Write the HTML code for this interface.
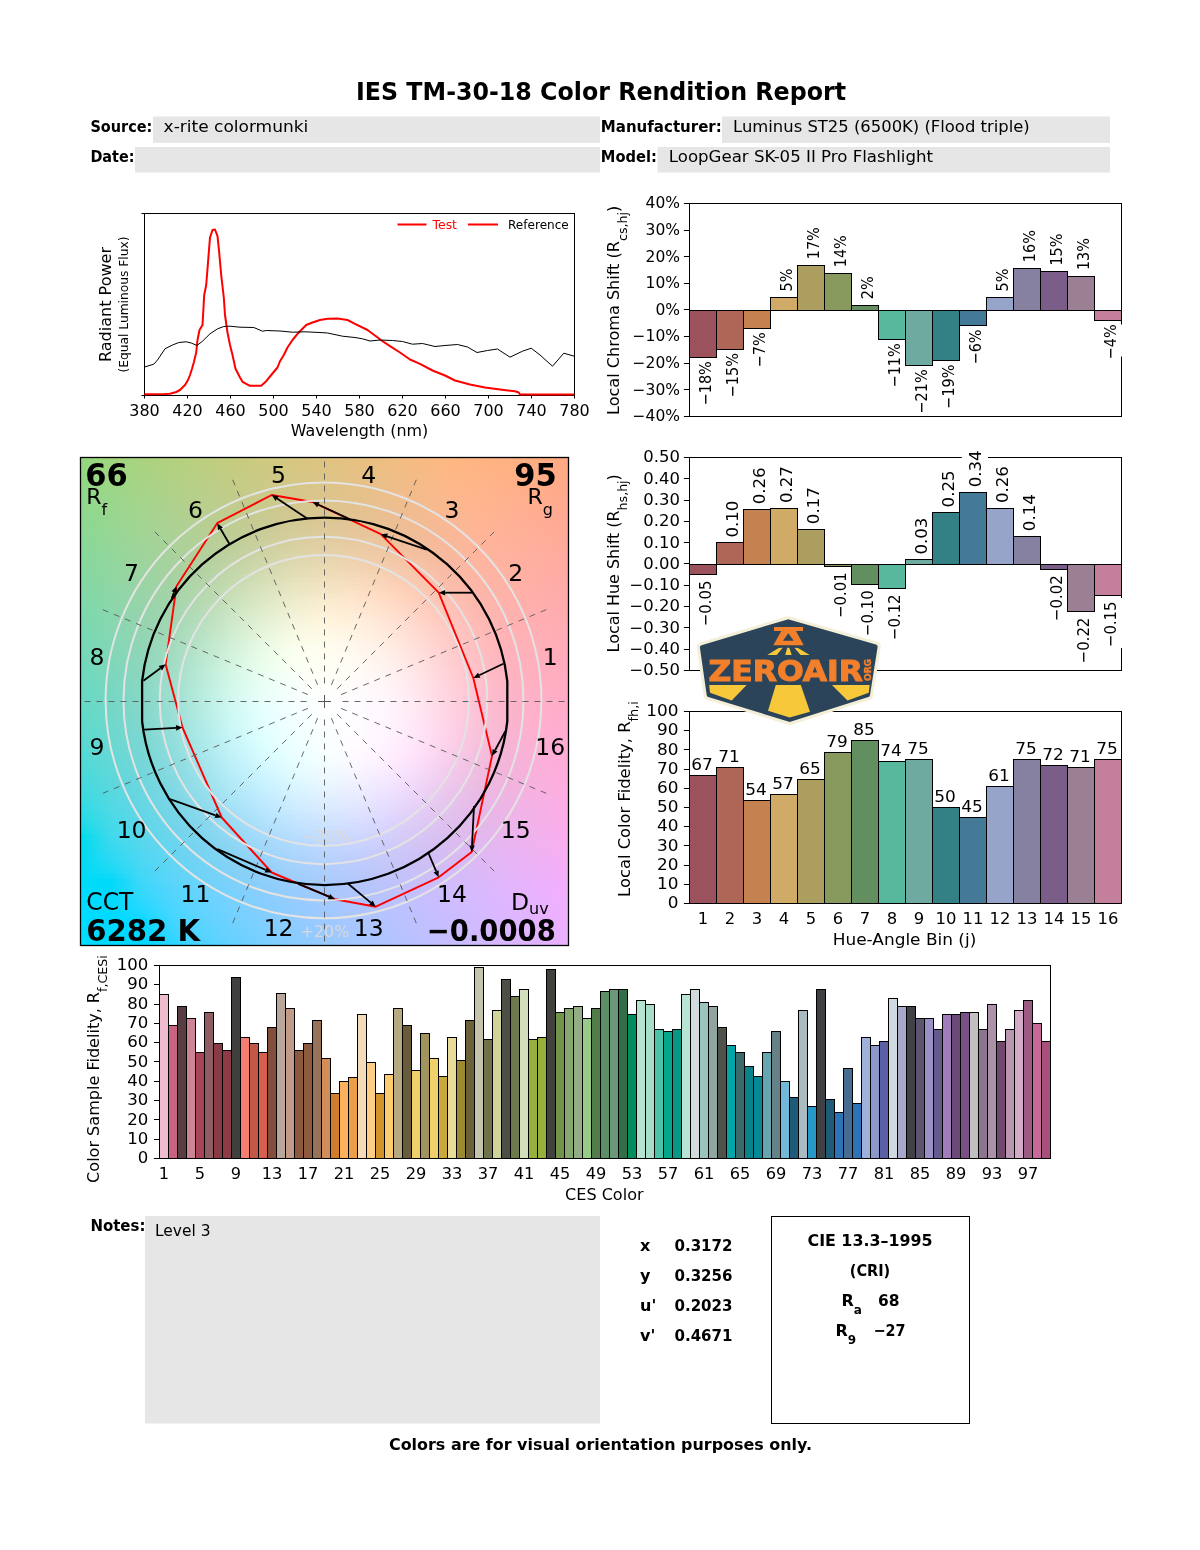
<!DOCTYPE html>
<html><head><meta charset="utf-8"><title>IES TM-30-18 Color Rendition Report</title>
<style>html,body{margin:0;padding:0;background:#fff}svg{display:block}text{font-family:"DejaVu Sans","Liberation Sans",sans-serif}</style>
</head><body>
<svg width="1200" height="1550" viewBox="0 0 1200 1550">
<rect width="1200" height="1550" fill="#fff"/>
<rect x="153" y="116.5" width="447" height="26.4" fill="#e6e6e6"/>
<rect x="135" y="147" width="465" height="25.5" fill="#e6e6e6"/>
<rect x="722" y="116.5" width="388" height="26.4" fill="#e6e6e6"/>
<rect x="657.5" y="147" width="452.5" height="25.5" fill="#e6e6e6"/>
<text x="356" y="100.3" font-size="24" font-weight="bold" textLength="490" lengthAdjust="spacingAndGlyphs">IES TM-30-18 Color Rendition Report</text>
<text x="90.4" y="132" font-size="16" font-weight="bold" textLength="62" lengthAdjust="spacingAndGlyphs">Source:</text>
<text x="163.6" y="132" font-size="16" textLength="144.7" lengthAdjust="spacingAndGlyphs">x-rite colormunki</text>
<text x="90.4" y="161.5" font-size="16" font-weight="bold" textLength="44" lengthAdjust="spacingAndGlyphs">Date:</text>
<text x="600.8" y="131.5" font-size="16" font-weight="bold" textLength="121" lengthAdjust="spacingAndGlyphs">Manufacturer:</text>
<text x="733.1" y="131.5" font-size="16" textLength="296.6" lengthAdjust="spacingAndGlyphs">Luminus ST25 (6500K) (Flood triple)</text>
<text x="600.8" y="161.5" font-size="16" font-weight="bold" textLength="56" lengthAdjust="spacingAndGlyphs">Model:</text>
<text x="668.8" y="161.5" font-size="16" textLength="264.2" lengthAdjust="spacingAndGlyphs">LoopGear SK-05 II Pro Flashlight</text>
<rect x="144.5" y="213.5" width="430.0" height="182.0" fill="#fff" stroke="#000" stroke-width="1"/>
<path d="M144.5 395.5v3" stroke="#000" stroke-width="1"/>
<text x="144.5" y="416.3" font-size="16" text-anchor="middle" textLength="30.5" lengthAdjust="spacingAndGlyphs">380</text>
<path d="M187.5 395.5v3" stroke="#000" stroke-width="1"/>
<text x="187.5" y="416.3" font-size="16" text-anchor="middle" textLength="30.5" lengthAdjust="spacingAndGlyphs">420</text>
<path d="M230.5 395.5v3" stroke="#000" stroke-width="1"/>
<text x="230.5" y="416.3" font-size="16" text-anchor="middle" textLength="30.5" lengthAdjust="spacingAndGlyphs">460</text>
<path d="M273.5 395.5v3" stroke="#000" stroke-width="1"/>
<text x="273.5" y="416.3" font-size="16" text-anchor="middle" textLength="30.5" lengthAdjust="spacingAndGlyphs">500</text>
<path d="M316.5 395.5v3" stroke="#000" stroke-width="1"/>
<text x="316.5" y="416.3" font-size="16" text-anchor="middle" textLength="30.5" lengthAdjust="spacingAndGlyphs">540</text>
<path d="M359.5 395.5v3" stroke="#000" stroke-width="1"/>
<text x="359.5" y="416.3" font-size="16" text-anchor="middle" textLength="30.5" lengthAdjust="spacingAndGlyphs">580</text>
<path d="M402.5 395.5v3" stroke="#000" stroke-width="1"/>
<text x="402.5" y="416.3" font-size="16" text-anchor="middle" textLength="30.5" lengthAdjust="spacingAndGlyphs">620</text>
<path d="M445.5 395.5v3" stroke="#000" stroke-width="1"/>
<text x="445.5" y="416.3" font-size="16" text-anchor="middle" textLength="30.5" lengthAdjust="spacingAndGlyphs">660</text>
<path d="M488.5 395.5v3" stroke="#000" stroke-width="1"/>
<text x="488.5" y="416.3" font-size="16" text-anchor="middle" textLength="30.5" lengthAdjust="spacingAndGlyphs">700</text>
<path d="M531.5 395.5v3" stroke="#000" stroke-width="1"/>
<text x="531.5" y="416.3" font-size="16" text-anchor="middle" textLength="30.5" lengthAdjust="spacingAndGlyphs">740</text>
<path d="M574.5 395.5v3" stroke="#000" stroke-width="1"/>
<text x="574.5" y="416.3" font-size="16" text-anchor="middle" textLength="30.5" lengthAdjust="spacingAndGlyphs">780</text>
<path d="M141.5 213.5h3M141.5 395.5h3" stroke="#000" stroke-width="1"/>
<text x="359.5" y="436.3" font-size="16" text-anchor="middle" textLength="137.5" lengthAdjust="spacingAndGlyphs">Wavelength (nm)</text>
<text x="110.5" y="304.5" font-size="16" text-anchor="middle" textLength="115" lengthAdjust="spacingAndGlyphs" transform="rotate(-90 110.5 304.5)">Radiant Power</text>
<text x="128" y="304.5" font-size="12.5" text-anchor="middle" textLength="136" lengthAdjust="spacingAndGlyphs" transform="rotate(-90 128 304.5)">(Equal Luminous Flux)</text>
<polyline fill="none" stroke="#f00" stroke-width="2" stroke-linejoin="round" points="144.5,394.2 165.0,394.0 170.0,393.8 176.2,392.0 180.0,390.0 185.0,385.0 188.0,380.0 190.0,375.0 192.0,368.8 193.8,362.5 196.2,352.5 197.5,340.0 199.5,330.0 202.5,325.0 204.2,295.0 206.2,285.0 208.0,262.5 210.0,237.5 212.5,230.0 215.0,229.5 217.5,236.2 219.2,252.5 221.2,275.0 223.8,297.5 225.0,315.0 227.5,332.5 230.0,345.0 232.5,355.0 235.5,368.8 240.0,377.5 242.5,381.8 250.0,385.8 261.2,385.8 266.2,381.2 271.2,375.0 277.5,367.5 280.0,361.2 283.8,355.0 287.5,347.5 292.5,340.0 297.5,333.8 302.5,328.8 306.2,325.0 312.5,322.5 320.0,320.0 327.5,318.8 337.5,318.5 347.5,320.0 355.0,323.8 367.5,330.0 380.0,339.2 380.0,339.5 390.0,346.2 400.0,352.5 410.0,359.5 420.0,363.8 432.5,370.5 445.0,375.5 455.0,380.5 470.0,384.5 485.0,387.5 500.0,389.5 515.0,391.2 518.8,392.5 520.0,394.5 574.2,394.5"/>
<polyline fill="none" stroke="#000" stroke-width="1" points="144.5,367.0 153.8,364.2 157.5,360.0 165.0,348.8 172.5,345.0 178.8,342.5 186.2,341.8 191.2,343.0 197.0,345.5 202.5,341.2 210.0,333.8 217.5,328.8 223.8,326.5 230.0,326.2 240.0,327.2 253.8,327.5 262.5,331.2 266.2,330.5 280.0,331.0 292.5,332.2 305.0,331.8 320.0,332.5 327.5,333.0 342.5,336.2 355.0,337.5 362.5,338.8 370.0,341.0 380.0,340.0 380.0,340.0 392.5,340.5 402.5,341.5 412.5,344.2 422.5,343.5 435.0,346.5 445.0,345.5 457.5,344.5 467.5,347.0 477.0,352.5 487.5,350.5 497.5,349.0 510.0,357.2 522.5,351.2 531.2,348.2 540.0,355.0 552.5,366.2 563.8,353.2 574.2,356.2"/>
<path d="M397.5 224.5h29M468 224.5h30" stroke="#f00" stroke-width="2"/>
<text x="432.5" y="228.8" font-size="13" fill="#f00" textLength="24.5" lengthAdjust="spacingAndGlyphs">Test</text>
<text x="508" y="228.8" font-size="13" textLength="60.8" lengthAdjust="spacingAndGlyphs">Reference</text>
<rect x="689.5" y="203.5" width="432.0" height="213.0" fill="#fff" stroke="#000" stroke-width="1"/>
<rect x="689.5" y="310.50" width="27" height="47.00" fill="#9c525d" stroke="#000" stroke-width="1"/>
<rect x="716.5" y="310.50" width="27" height="39.00" fill="#ae6757" stroke="#000" stroke-width="1"/>
<rect x="743.5" y="310.50" width="27" height="18.00" fill="#c3824f" stroke="#000" stroke-width="1"/>
<rect x="770.5" y="297.50" width="27" height="13.00" fill="#cfab67" stroke="#000" stroke-width="1"/>
<rect x="797.5" y="265.50" width="27" height="45.00" fill="#ab9e5f" stroke="#000" stroke-width="1"/>
<rect x="824.5" y="273.50" width="27" height="37.00" fill="#87995d" stroke="#000" stroke-width="1"/>
<rect x="851.5" y="305.50" width="27" height="5.00" fill="#638e5f" stroke="#000" stroke-width="1"/>
<rect x="878.5" y="310.50" width="27" height="29.00" fill="#57b89d" stroke="#000" stroke-width="1"/>
<rect x="905.5" y="310.50" width="27" height="55.00" fill="#6faaa0" stroke="#000" stroke-width="1"/>
<rect x="932.5" y="310.50" width="27" height="50.00" fill="#338085" stroke="#000" stroke-width="1"/>
<rect x="959.5" y="310.50" width="27" height="15.00" fill="#447998" stroke="#000" stroke-width="1"/>
<rect x="986.5" y="297.50" width="27" height="13.00" fill="#97a4c9" stroke="#000" stroke-width="1"/>
<rect x="1013.5" y="268.50" width="27" height="42.00" fill="#8681a0" stroke="#000" stroke-width="1"/>
<rect x="1040.5" y="271.50" width="27" height="39.00" fill="#7b5d8a" stroke="#000" stroke-width="1"/>
<rect x="1067.5" y="276.50" width="27" height="34.00" fill="#9b8093" stroke="#000" stroke-width="1"/>
<rect x="1094.5" y="310.50" width="27" height="10.00" fill="#c47f9d" stroke="#000" stroke-width="1"/>
<text transform="translate(711.2 361.29) scale(1.16 1) rotate(-90)" font-size="14.4" text-anchor="end">−18%</text>
<text transform="translate(738.2 353.17) scale(1.16 1) rotate(-90)" font-size="14.4" text-anchor="end">−15%</text>
<text transform="translate(765.2 332.41) scale(1.16 1) rotate(-90)" font-size="14.4" text-anchor="end">−7%</text>
<text transform="translate(792.2 291.42) scale(1.16 1) rotate(-90)" font-size="14.4">5%</text>
<text transform="translate(819.2 259.2) scale(1.16 1) rotate(-90)" font-size="14.4">17%</text>
<text transform="translate(846.2 267.19) scale(1.16 1) rotate(-90)" font-size="14.4">14%</text>
<text transform="translate(873.2 299.14) scale(1.16 1) rotate(-90)" font-size="14.4">2%</text>
<text transform="translate(900.2 343.32) scale(1.16 1) rotate(-90)" font-size="14.4" text-anchor="end">−11%</text>
<text transform="translate(927.2 369.41) scale(1.16 1) rotate(-90)" font-size="14.4" text-anchor="end">−21%</text>
<text transform="translate(954.2 364.62) scale(1.16 1) rotate(-90)" font-size="14.4" text-anchor="end">−19%</text>
<text transform="translate(981.2 329.48) scale(1.16 1) rotate(-90)" font-size="14.4" text-anchor="end">−6%</text>
<text transform="translate(1008.2 291.42) scale(1.16 1) rotate(-90)" font-size="14.4">5%</text>
<text transform="translate(1035.2 262.13) scale(1.16 1) rotate(-90)" font-size="14.4">16%</text>
<text transform="translate(1062.2 265.59) scale(1.16 1) rotate(-90)" font-size="14.4">15%</text>
<text transform="translate(1089.2 270.12) scale(1.16 1) rotate(-90)" font-size="14.4">13%</text>
<rect x="1099" y="324.5" width="24.5" height="32" fill="#fff"/>
<text transform="translate(1116.2 324.42) scale(1.16 1) rotate(-90)" font-size="14.4" text-anchor="end">−4%</text>
<path d="M683.9 203.50h5.6" stroke="#000" stroke-width="1"/>
<text transform="translate(680 208.3) scale(1.0 1)" font-size="15.5" text-anchor="end">40%</text>
<path d="M683.9 230.50h5.6" stroke="#000" stroke-width="1"/>
<text transform="translate(680 234.93) scale(1.0 1)" font-size="15.5" text-anchor="end">30%</text>
<path d="M683.9 256.50h5.6" stroke="#000" stroke-width="1"/>
<text transform="translate(680 261.55) scale(1.0 1)" font-size="15.5" text-anchor="end">20%</text>
<path d="M683.9 283.50h5.6" stroke="#000" stroke-width="1"/>
<text transform="translate(680 288.18) scale(1.0 1)" font-size="15.5" text-anchor="end">10%</text>
<path d="M683.9 309.50h5.6" stroke="#000" stroke-width="1"/>
<text transform="translate(680 314.8) scale(1.0 1)" font-size="15.5" text-anchor="end">0%</text>
<path d="M683.9 336.50h5.6" stroke="#000" stroke-width="1"/>
<text transform="translate(680 341.43) scale(1.0 1)" font-size="15.5" text-anchor="end">−10%</text>
<path d="M683.9 363.50h5.6" stroke="#000" stroke-width="1"/>
<text transform="translate(680 368.05) scale(1.0 1)" font-size="15.5" text-anchor="end">−20%</text>
<path d="M683.9 389.50h5.6" stroke="#000" stroke-width="1"/>
<text transform="translate(680 394.68) scale(1.0 1)" font-size="15.5" text-anchor="end">−30%</text>
<path d="M683.9 416.50h5.6" stroke="#000" stroke-width="1"/>
<text transform="translate(680 421.3) scale(1.0 1)" font-size="15.5" text-anchor="end">−40%</text>
<text transform="translate(619 310.3) rotate(-90) scale(0.9748 1)" font-size="16.5" text-anchor="middle">Local Chroma Shift (R<tspan font-size="13" dy="8">cs,hj</tspan><tspan dy="-8">)</tspan></text>
<rect x="689.5" y="457.5" width="432.0" height="213.0" fill="#fff" stroke="#000" stroke-width="1"/>
<rect x="689.5" y="564.50" width="27" height="10.00" fill="#9c525d" stroke="#000" stroke-width="1"/>
<rect x="716.5" y="542.50" width="27" height="22.00" fill="#ae6757" stroke="#000" stroke-width="1"/>
<rect x="743.5" y="509.50" width="27" height="55.00" fill="#c3824f" stroke="#000" stroke-width="1"/>
<rect x="770.5" y="508.50" width="27" height="56.00" fill="#cfab67" stroke="#000" stroke-width="1"/>
<rect x="797.5" y="529.50" width="27" height="35.00" fill="#ab9e5f" stroke="#000" stroke-width="1"/>
<rect x="824.5" y="564.50" width="27" height="2.00" fill="#87995d" stroke="#000" stroke-width="1"/>
<rect x="851.5" y="564.50" width="27" height="20.00" fill="#638e5f" stroke="#000" stroke-width="1"/>
<rect x="878.5" y="564.50" width="27" height="24.00" fill="#57b89d" stroke="#000" stroke-width="1"/>
<rect x="905.5" y="559.50" width="27" height="5.00" fill="#6faaa0" stroke="#000" stroke-width="1"/>
<rect x="932.5" y="512.50" width="27" height="52.00" fill="#338085" stroke="#000" stroke-width="1"/>
<rect x="959.5" y="492.50" width="27" height="72.00" fill="#447998" stroke="#000" stroke-width="1"/>
<rect x="986.5" y="508.50" width="27" height="56.00" fill="#97a4c9" stroke="#000" stroke-width="1"/>
<rect x="1013.5" y="536.50" width="27" height="28.00" fill="#8681a0" stroke="#000" stroke-width="1"/>
<rect x="1040.5" y="564.50" width="27" height="5.00" fill="#7b5d8a" stroke="#000" stroke-width="1"/>
<rect x="1067.5" y="564.50" width="27" height="47.00" fill="#9b8093" stroke="#000" stroke-width="1"/>
<rect x="1094.5" y="564.50" width="27" height="31.00" fill="#c47f9d" stroke="#000" stroke-width="1"/>
<text transform="translate(711.3 580.62) rotate(-90)" font-size="16.6" text-anchor="end" textLength="45.5" lengthAdjust="spacingAndGlyphs">−0.05</text>
<text transform="translate(738.3 537.57) rotate(-90)" font-size="16.6" text-anchor="start" textLength="37" lengthAdjust="spacingAndGlyphs">0.10</text>
<text transform="translate(765.3 504.35) rotate(-90)" font-size="16.6" text-anchor="start" textLength="37" lengthAdjust="spacingAndGlyphs">0.26</text>
<text transform="translate(792.3 503.07) rotate(-90)" font-size="16.6" text-anchor="start" textLength="37" lengthAdjust="spacingAndGlyphs">0.27</text>
<text transform="translate(819.3 524.15) rotate(-90)" font-size="16.6" text-anchor="start" textLength="37" lengthAdjust="spacingAndGlyphs">0.17</text>
<text transform="translate(846.3 572.32) rotate(-90)" font-size="16.6" text-anchor="end" textLength="45.5" lengthAdjust="spacingAndGlyphs">−0.01</text>
<text transform="translate(873.3 590.42) rotate(-90)" font-size="16.6" text-anchor="end" textLength="45.5" lengthAdjust="spacingAndGlyphs">−0.10</text>
<text transform="translate(900.3 594.47) rotate(-90)" font-size="16.6" text-anchor="end" textLength="45.5" lengthAdjust="spacingAndGlyphs">−0.12</text>
<text transform="translate(927.3 554.61) rotate(-90)" font-size="16.6" text-anchor="start" textLength="37" lengthAdjust="spacingAndGlyphs">0.03</text>
<text transform="translate(954.3 507.43) rotate(-90)" font-size="16.6" text-anchor="start" textLength="37" lengthAdjust="spacingAndGlyphs">0.25</text>
<rect x="961.8" y="445" width="26.2" height="43.3" fill="#fff"/>
<text transform="translate(981.3 487.31) rotate(-90)" font-size="16.6" text-anchor="start" textLength="37" lengthAdjust="spacingAndGlyphs">0.34</text>
<text transform="translate(1008.3 503.07) rotate(-90)" font-size="16.6" text-anchor="start" textLength="37" lengthAdjust="spacingAndGlyphs">0.26</text>
<text transform="translate(1035.3 531.18) rotate(-90)" font-size="16.6" text-anchor="start" textLength="37" lengthAdjust="spacingAndGlyphs">0.14</text>
<text transform="translate(1062.3 575.41) rotate(-90)" font-size="16.6" text-anchor="end" textLength="45.5" lengthAdjust="spacingAndGlyphs">−0.02</text>
<text transform="translate(1089.3 617.69) rotate(-90)" font-size="16.6" text-anchor="end" textLength="45.5" lengthAdjust="spacingAndGlyphs">−0.22</text>
<rect x="1099" y="598" width="24.5" height="50" fill="#fff"/>
<text transform="translate(1116.3 601.5) rotate(-90)" font-size="16.6" text-anchor="end" textLength="45.5" lengthAdjust="spacingAndGlyphs">−0.15</text>
<path d="M683.9 457.50h5.6" stroke="#000" stroke-width="1"/>
<text transform="translate(680 462.3) scale(1.07 1)" font-size="15.4" text-anchor="end">0.50</text>
<path d="M683.9 478.50h5.6" stroke="#000" stroke-width="1"/>
<text transform="translate(680 483.6) scale(1.07 1)" font-size="15.4" text-anchor="end">0.40</text>
<path d="M683.9 500.50h5.6" stroke="#000" stroke-width="1"/>
<text transform="translate(680 504.9) scale(1.07 1)" font-size="15.4" text-anchor="end">0.30</text>
<path d="M683.9 521.50h5.6" stroke="#000" stroke-width="1"/>
<text transform="translate(680 526.2) scale(1.07 1)" font-size="15.4" text-anchor="end">0.20</text>
<path d="M683.9 542.50h5.6" stroke="#000" stroke-width="1"/>
<text transform="translate(680 547.5) scale(1.07 1)" font-size="15.4" text-anchor="end">0.10</text>
<path d="M683.9 563.50h5.6" stroke="#000" stroke-width="1"/>
<text transform="translate(680 568.8) scale(1.07 1)" font-size="15.4" text-anchor="end">0.00</text>
<path d="M683.9 585.50h5.6" stroke="#000" stroke-width="1"/>
<text transform="translate(680 590.1) scale(1.07 1)" font-size="15.4" text-anchor="end">−0.10</text>
<path d="M683.9 606.50h5.6" stroke="#000" stroke-width="1"/>
<text transform="translate(680 611.4) scale(1.07 1)" font-size="15.4" text-anchor="end">−0.20</text>
<path d="M683.9 627.50h5.6" stroke="#000" stroke-width="1"/>
<text transform="translate(680 632.7) scale(1.07 1)" font-size="15.4" text-anchor="end">−0.30</text>
<path d="M683.9 649.50h5.6" stroke="#000" stroke-width="1"/>
<text transform="translate(680 654.0) scale(1.07 1)" font-size="15.4" text-anchor="end">−0.40</text>
<path d="M683.9 670.50h5.6" stroke="#000" stroke-width="1"/>
<text transform="translate(680 675.3) scale(1.07 1)" font-size="15.4" text-anchor="end">−0.50</text>
<text transform="translate(619 563.3) rotate(-90) scale(0.9682 1)" font-size="16.5" text-anchor="middle">Local Hue Shift (R<tspan font-size="13" dy="8">hs,hj</tspan><tspan dy="-8">)</tspan></text>
<rect x="689.5" y="711.5" width="432.0" height="192.0" fill="#fff" stroke="#000" stroke-width="1"/>
<rect x="689.5" y="775.50" width="27" height="128.00" fill="#9c525d" stroke="#000" stroke-width="1"/>
<text transform="translate(702.0 769.7) scale(1.1 1)" font-size="15.4" text-anchor="middle">67</text>
<text transform="translate(703.0 923.8) scale(1.08 1)" font-size="15.2" text-anchor="middle">1</text>
<rect x="716.5" y="767.50" width="27" height="136.00" fill="#ae6757" stroke="#000" stroke-width="1"/>
<text transform="translate(729.0 761.7) scale(1.1 1)" font-size="15.4" text-anchor="middle">71</text>
<text transform="translate(730.0 923.8) scale(1.08 1)" font-size="15.2" text-anchor="middle">2</text>
<rect x="743.5" y="800.50" width="27" height="103.00" fill="#c3824f" stroke="#000" stroke-width="1"/>
<text transform="translate(756.0 794.7) scale(1.1 1)" font-size="15.4" text-anchor="middle">54</text>
<text transform="translate(757.0 923.8) scale(1.08 1)" font-size="15.2" text-anchor="middle">3</text>
<rect x="770.5" y="794.50" width="27" height="109.00" fill="#cfab67" stroke="#000" stroke-width="1"/>
<text transform="translate(783.0 788.7) scale(1.1 1)" font-size="15.4" text-anchor="middle">57</text>
<text transform="translate(784.0 923.8) scale(1.08 1)" font-size="15.2" text-anchor="middle">4</text>
<rect x="797.5" y="779.50" width="27" height="124.00" fill="#ab9e5f" stroke="#000" stroke-width="1"/>
<text transform="translate(810.0 773.7) scale(1.1 1)" font-size="15.4" text-anchor="middle">65</text>
<text transform="translate(811.0 923.8) scale(1.08 1)" font-size="15.2" text-anchor="middle">5</text>
<rect x="824.5" y="752.50" width="27" height="151.00" fill="#87995d" stroke="#000" stroke-width="1"/>
<text transform="translate(837.0 746.7) scale(1.1 1)" font-size="15.4" text-anchor="middle">79</text>
<text transform="translate(838.0 923.8) scale(1.08 1)" font-size="15.2" text-anchor="middle">6</text>
<rect x="851.5" y="740.50" width="27" height="163.00" fill="#638e5f" stroke="#000" stroke-width="1"/>
<text transform="translate(864.0 734.7) scale(1.1 1)" font-size="15.4" text-anchor="middle">85</text>
<text transform="translate(865.0 923.8) scale(1.08 1)" font-size="15.2" text-anchor="middle">7</text>
<rect x="878.5" y="761.50" width="27" height="142.00" fill="#57b89d" stroke="#000" stroke-width="1"/>
<text transform="translate(891.0 755.7) scale(1.1 1)" font-size="15.4" text-anchor="middle">74</text>
<text transform="translate(892.0 923.8) scale(1.08 1)" font-size="15.2" text-anchor="middle">8</text>
<rect x="905.5" y="759.50" width="27" height="144.00" fill="#6faaa0" stroke="#000" stroke-width="1"/>
<text transform="translate(918.0 753.7) scale(1.1 1)" font-size="15.4" text-anchor="middle">75</text>
<text transform="translate(919.0 923.8) scale(1.08 1)" font-size="15.2" text-anchor="middle">9</text>
<rect x="932.5" y="807.50" width="27" height="96.00" fill="#338085" stroke="#000" stroke-width="1"/>
<text transform="translate(945.0 801.7) scale(1.1 1)" font-size="15.4" text-anchor="middle">50</text>
<text transform="translate(946.0 923.8) scale(1.08 1)" font-size="15.2" text-anchor="middle">10</text>
<rect x="959.5" y="817.50" width="27" height="86.00" fill="#447998" stroke="#000" stroke-width="1"/>
<text transform="translate(972.0 811.7) scale(1.1 1)" font-size="15.4" text-anchor="middle">45</text>
<text transform="translate(973.0 923.8) scale(1.08 1)" font-size="15.2" text-anchor="middle">11</text>
<rect x="986.5" y="786.50" width="27" height="117.00" fill="#97a4c9" stroke="#000" stroke-width="1"/>
<text transform="translate(999.0 780.7) scale(1.1 1)" font-size="15.4" text-anchor="middle">61</text>
<text transform="translate(1000.0 923.8) scale(1.08 1)" font-size="15.2" text-anchor="middle">12</text>
<rect x="1013.5" y="759.50" width="27" height="144.00" fill="#8681a0" stroke="#000" stroke-width="1"/>
<text transform="translate(1026.0 753.7) scale(1.1 1)" font-size="15.4" text-anchor="middle">75</text>
<text transform="translate(1027.0 923.8) scale(1.08 1)" font-size="15.2" text-anchor="middle">13</text>
<rect x="1040.5" y="765.50" width="27" height="138.00" fill="#7b5d8a" stroke="#000" stroke-width="1"/>
<text transform="translate(1053.0 759.7) scale(1.1 1)" font-size="15.4" text-anchor="middle">72</text>
<text transform="translate(1054.0 923.8) scale(1.08 1)" font-size="15.2" text-anchor="middle">14</text>
<rect x="1067.5" y="767.50" width="27" height="136.00" fill="#9b8093" stroke="#000" stroke-width="1"/>
<text transform="translate(1080.0 761.7) scale(1.1 1)" font-size="15.4" text-anchor="middle">71</text>
<text transform="translate(1081.0 923.8) scale(1.08 1)" font-size="15.2" text-anchor="middle">15</text>
<rect x="1094.5" y="759.50" width="27" height="144.00" fill="#c47f9d" stroke="#000" stroke-width="1"/>
<text transform="translate(1107.0 753.7) scale(1.1 1)" font-size="15.4" text-anchor="middle">75</text>
<text transform="translate(1108.0 923.8) scale(1.08 1)" font-size="15.2" text-anchor="middle">16</text>
<path d="M683.9 711.50h5.6" stroke="#000" stroke-width="1"/>
<text transform="translate(678.5 716.1) scale(1.09 1)" font-size="15.5" text-anchor="end">100</text>
<path d="M683.9 730.50h5.6" stroke="#000" stroke-width="1"/>
<text transform="translate(678.5 735.3) scale(1.09 1)" font-size="15.5" text-anchor="end">90</text>
<path d="M683.9 749.50h5.6" stroke="#000" stroke-width="1"/>
<text transform="translate(678.5 754.5) scale(1.09 1)" font-size="15.5" text-anchor="end">80</text>
<path d="M683.9 769.50h5.6" stroke="#000" stroke-width="1"/>
<text transform="translate(678.5 773.7) scale(1.09 1)" font-size="15.5" text-anchor="end">70</text>
<path d="M683.9 788.50h5.6" stroke="#000" stroke-width="1"/>
<text transform="translate(678.5 792.9) scale(1.09 1)" font-size="15.5" text-anchor="end">60</text>
<path d="M683.9 807.50h5.6" stroke="#000" stroke-width="1"/>
<text transform="translate(678.5 812.1) scale(1.09 1)" font-size="15.5" text-anchor="end">50</text>
<path d="M683.9 826.50h5.6" stroke="#000" stroke-width="1"/>
<text transform="translate(678.5 831.3) scale(1.09 1)" font-size="15.5" text-anchor="end">40</text>
<path d="M683.9 845.50h5.6" stroke="#000" stroke-width="1"/>
<text transform="translate(678.5 850.5) scale(1.09 1)" font-size="15.5" text-anchor="end">30</text>
<path d="M683.9 865.50h5.6" stroke="#000" stroke-width="1"/>
<text transform="translate(678.5 869.7) scale(1.09 1)" font-size="15.5" text-anchor="end">20</text>
<path d="M683.9 884.50h5.6" stroke="#000" stroke-width="1"/>
<text transform="translate(678.5 888.9) scale(1.09 1)" font-size="15.5" text-anchor="end">10</text>
<path d="M683.9 903.50h5.6" stroke="#000" stroke-width="1"/>
<text transform="translate(678.5 908.1) scale(1.09 1)" font-size="15.5" text-anchor="end">0</text>
<text transform="translate(629.5 799) rotate(-90) scale(0.9911 1)" font-size="16.5" text-anchor="middle">Local Color Fidelity, R<tspan font-size="13" dy="8">fh,i</tspan></text>
<text x="904.5" y="945" font-size="16" text-anchor="middle" textLength="143.5" lengthAdjust="spacingAndGlyphs">Hue-Angle Bin (j)</text>
<rect x="159.5" y="965.5" width="891.0" height="193.0" fill="#fff" stroke="#000" stroke-width="1"/>
<rect x="159.5" y="994.50" width="9" height="164.00" fill="#efbbce" stroke="#000" stroke-width="1"/>
<rect x="168.5" y="1025.50" width="9" height="133.00" fill="#c86384" stroke="#000" stroke-width="1"/>
<rect x="177.5" y="1006.50" width="9" height="152.00" fill="#583e42" stroke="#000" stroke-width="1"/>
<rect x="186.5" y="1018.50" width="9" height="140.00" fill="#cd8595" stroke="#000" stroke-width="1"/>
<rect x="195.5" y="1052.50" width="9" height="106.00" fill="#a8435a" stroke="#000" stroke-width="1"/>
<rect x="204.5" y="1012.50" width="9" height="146.00" fill="#8f5d63" stroke="#000" stroke-width="1"/>
<rect x="213.5" y="1043.50" width="9" height="115.00" fill="#8a3a45" stroke="#000" stroke-width="1"/>
<rect x="222.5" y="1050.50" width="9" height="108.00" fill="#8c3b47" stroke="#000" stroke-width="1"/>
<rect x="231.5" y="977.50" width="9" height="181.00" fill="#3f3f3d" stroke="#000" stroke-width="1"/>
<rect x="240.5" y="1037.50" width="9" height="121.00" fill="#f77f72" stroke="#000" stroke-width="1"/>
<rect x="249.5" y="1043.50" width="9" height="115.00" fill="#c25846" stroke="#000" stroke-width="1"/>
<rect x="258.5" y="1052.50" width="9" height="106.00" fill="#d85f4e" stroke="#000" stroke-width="1"/>
<rect x="267.5" y="1027.50" width="9" height="131.00" fill="#804e3b" stroke="#000" stroke-width="1"/>
<rect x="276.5" y="993.50" width="9" height="165.00" fill="#b9a79b" stroke="#000" stroke-width="1"/>
<rect x="285.5" y="1008.50" width="9" height="150.00" fill="#c19b87" stroke="#000" stroke-width="1"/>
<rect x="294.5" y="1050.50" width="9" height="108.00" fill="#8c583e" stroke="#000" stroke-width="1"/>
<rect x="303.5" y="1043.50" width="9" height="115.00" fill="#8e5b40" stroke="#000" stroke-width="1"/>
<rect x="312.5" y="1020.50" width="9" height="138.00" fill="#97735a" stroke="#000" stroke-width="1"/>
<rect x="321.5" y="1058.50" width="9" height="100.00" fill="#d18e58" stroke="#000" stroke-width="1"/>
<rect x="330.5" y="1093.50" width="9" height="65.00" fill="#d07e2c" stroke="#000" stroke-width="1"/>
<rect x="339.5" y="1081.50" width="9" height="77.00" fill="#fdb15d" stroke="#000" stroke-width="1"/>
<rect x="348.5" y="1077.50" width="9" height="81.00" fill="#eb9e47" stroke="#000" stroke-width="1"/>
<rect x="357.5" y="1014.50" width="9" height="144.00" fill="#f5dcb8" stroke="#000" stroke-width="1"/>
<rect x="366.5" y="1062.50" width="9" height="96.00" fill="#fdcf85" stroke="#000" stroke-width="1"/>
<rect x="375.5" y="1093.50" width="9" height="65.00" fill="#d3922a" stroke="#000" stroke-width="1"/>
<rect x="384.5" y="1074.50" width="9" height="84.00" fill="#fdcc70" stroke="#000" stroke-width="1"/>
<rect x="393.5" y="1008.50" width="9" height="150.00" fill="#b7aa80" stroke="#000" stroke-width="1"/>
<rect x="402.5" y="1025.50" width="9" height="133.00" fill="#685c3a" stroke="#000" stroke-width="1"/>
<rect x="411.5" y="1070.50" width="9" height="88.00" fill="#efd068" stroke="#000" stroke-width="1"/>
<rect x="420.5" y="1033.50" width="9" height="125.00" fill="#a0935e" stroke="#000" stroke-width="1"/>
<rect x="429.5" y="1058.50" width="9" height="100.00" fill="#f0d06a" stroke="#000" stroke-width="1"/>
<rect x="438.5" y="1076.50" width="9" height="82.00" fill="#c8a93a" stroke="#000" stroke-width="1"/>
<rect x="447.5" y="1037.50" width="9" height="121.00" fill="#e8dc98" stroke="#000" stroke-width="1"/>
<rect x="456.5" y="1060.50" width="9" height="98.00" fill="#9c8a33" stroke="#000" stroke-width="1"/>
<rect x="465.5" y="1020.50" width="9" height="138.00" fill="#6a6039" stroke="#000" stroke-width="1"/>
<rect x="474.5" y="967.50" width="9" height="191.00" fill="#c4c4ac" stroke="#000" stroke-width="1"/>
<rect x="483.5" y="1039.50" width="9" height="119.00" fill="#6f7248" stroke="#000" stroke-width="1"/>
<rect x="492.5" y="1010.50" width="9" height="148.00" fill="#d0d49a" stroke="#000" stroke-width="1"/>
<rect x="501.5" y="979.50" width="9" height="179.00" fill="#4c4f45" stroke="#000" stroke-width="1"/>
<rect x="510.5" y="996.50" width="9" height="162.00" fill="#6f7a4c" stroke="#000" stroke-width="1"/>
<rect x="519.5" y="989.50" width="9" height="169.00" fill="#d3debc" stroke="#000" stroke-width="1"/>
<rect x="528.5" y="1039.50" width="9" height="119.00" fill="#97b03c" stroke="#000" stroke-width="1"/>
<rect x="537.5" y="1037.50" width="9" height="121.00" fill="#97b03c" stroke="#000" stroke-width="1"/>
<rect x="546.5" y="969.50" width="9" height="189.00" fill="#41413d" stroke="#000" stroke-width="1"/>
<rect x="555.5" y="1012.50" width="9" height="146.00" fill="#719448" stroke="#000" stroke-width="1"/>
<rect x="564.5" y="1008.50" width="9" height="150.00" fill="#86a86e" stroke="#000" stroke-width="1"/>
<rect x="573.5" y="1006.50" width="9" height="152.00" fill="#93ae84" stroke="#000" stroke-width="1"/>
<rect x="582.5" y="1018.50" width="9" height="140.00" fill="#97cc88" stroke="#000" stroke-width="1"/>
<rect x="591.5" y="1008.50" width="9" height="150.00" fill="#4f7c48" stroke="#000" stroke-width="1"/>
<rect x="600.5" y="991.50" width="9" height="167.00" fill="#5c8f66" stroke="#000" stroke-width="1"/>
<rect x="609.5" y="989.50" width="9" height="169.00" fill="#6a9878" stroke="#000" stroke-width="1"/>
<rect x="618.5" y="989.50" width="9" height="169.00" fill="#326f47" stroke="#000" stroke-width="1"/>
<rect x="627.5" y="1014.50" width="9" height="144.00" fill="#008e5f" stroke="#000" stroke-width="1"/>
<rect x="636.5" y="1000.50" width="9" height="158.00" fill="#b4e3d2" stroke="#000" stroke-width="1"/>
<rect x="645.5" y="1004.50" width="9" height="154.00" fill="#a8dec8" stroke="#000" stroke-width="1"/>
<rect x="654.5" y="1029.50" width="9" height="129.00" fill="#4dc3a8" stroke="#000" stroke-width="1"/>
<rect x="663.5" y="1031.50" width="9" height="127.00" fill="#04a58a" stroke="#000" stroke-width="1"/>
<rect x="672.5" y="1029.50" width="9" height="129.00" fill="#069a86" stroke="#000" stroke-width="1"/>
<rect x="681.5" y="994.50" width="9" height="164.00" fill="#b8e4d4" stroke="#000" stroke-width="1"/>
<rect x="690.5" y="989.50" width="9" height="169.00" fill="#d1dbdd" stroke="#000" stroke-width="1"/>
<rect x="699.5" y="1002.50" width="9" height="156.00" fill="#9cc4be" stroke="#000" stroke-width="1"/>
<rect x="708.5" y="1006.50" width="9" height="152.00" fill="#8fa5a0" stroke="#000" stroke-width="1"/>
<rect x="717.5" y="1027.50" width="9" height="131.00" fill="#4f5249" stroke="#000" stroke-width="1"/>
<rect x="726.5" y="1045.50" width="9" height="113.00" fill="#04a5a6" stroke="#000" stroke-width="1"/>
<rect x="735.5" y="1052.50" width="9" height="106.00" fill="#3b6a6d" stroke="#000" stroke-width="1"/>
<rect x="744.5" y="1066.50" width="9" height="92.00" fill="#088389" stroke="#000" stroke-width="1"/>
<rect x="753.5" y="1076.50" width="9" height="82.00" fill="#068896" stroke="#000" stroke-width="1"/>
<rect x="762.5" y="1052.50" width="9" height="106.00" fill="#67a5b1" stroke="#000" stroke-width="1"/>
<rect x="771.5" y="1031.50" width="9" height="127.00" fill="#668288" stroke="#000" stroke-width="1"/>
<rect x="780.5" y="1081.50" width="9" height="77.00" fill="#72b8d8" stroke="#000" stroke-width="1"/>
<rect x="789.5" y="1097.50" width="9" height="61.00" fill="#1e5b78" stroke="#000" stroke-width="1"/>
<rect x="798.5" y="1010.50" width="9" height="148.00" fill="#a9bac1" stroke="#000" stroke-width="1"/>
<rect x="807.5" y="1106.50" width="9" height="52.00" fill="#2699c8" stroke="#000" stroke-width="1"/>
<rect x="816.5" y="989.50" width="9" height="169.00" fill="#3f4043" stroke="#000" stroke-width="1"/>
<rect x="825.5" y="1099.50" width="9" height="59.00" fill="#1e5b78" stroke="#000" stroke-width="1"/>
<rect x="834.5" y="1112.50" width="9" height="46.00" fill="#2e72b8" stroke="#000" stroke-width="1"/>
<rect x="843.5" y="1068.50" width="9" height="90.00" fill="#466c92" stroke="#000" stroke-width="1"/>
<rect x="852.5" y="1103.50" width="9" height="55.00" fill="#2e72b8" stroke="#000" stroke-width="1"/>
<rect x="861.5" y="1037.50" width="9" height="121.00" fill="#9db1da" stroke="#000" stroke-width="1"/>
<rect x="870.5" y="1045.50" width="9" height="113.00" fill="#8c98ca" stroke="#000" stroke-width="1"/>
<rect x="879.5" y="1041.50" width="9" height="117.00" fill="#5b5fa3" stroke="#000" stroke-width="1"/>
<rect x="888.5" y="998.50" width="9" height="160.00" fill="#ced9e0" stroke="#000" stroke-width="1"/>
<rect x="897.5" y="1006.50" width="9" height="152.00" fill="#a9a8cc" stroke="#000" stroke-width="1"/>
<rect x="906.5" y="1006.50" width="9" height="152.00" fill="#404146" stroke="#000" stroke-width="1"/>
<rect x="915.5" y="1018.50" width="9" height="140.00" fill="#5c5470" stroke="#000" stroke-width="1"/>
<rect x="924.5" y="1018.50" width="9" height="140.00" fill="#9b8fc8" stroke="#000" stroke-width="1"/>
<rect x="933.5" y="1029.50" width="9" height="129.00" fill="#665a8c" stroke="#000" stroke-width="1"/>
<rect x="942.5" y="1014.50" width="9" height="144.00" fill="#a07ebb" stroke="#000" stroke-width="1"/>
<rect x="951.5" y="1014.50" width="9" height="144.00" fill="#6b4a78" stroke="#000" stroke-width="1"/>
<rect x="960.5" y="1012.50" width="9" height="146.00" fill="#7b5088" stroke="#000" stroke-width="1"/>
<rect x="969.5" y="1012.50" width="9" height="146.00" fill="#c0c0c0" stroke="#000" stroke-width="1"/>
<rect x="978.5" y="1029.50" width="9" height="129.00" fill="#8d7590" stroke="#000" stroke-width="1"/>
<rect x="987.5" y="1004.50" width="9" height="154.00" fill="#ab92a8" stroke="#000" stroke-width="1"/>
<rect x="996.5" y="1041.50" width="9" height="117.00" fill="#72486c" stroke="#000" stroke-width="1"/>
<rect x="1005.5" y="1029.50" width="9" height="129.00" fill="#bb96b0" stroke="#000" stroke-width="1"/>
<rect x="1014.5" y="1010.50" width="9" height="148.00" fill="#d3aac8" stroke="#000" stroke-width="1"/>
<rect x="1023.5" y="1000.50" width="9" height="158.00" fill="#9b5a82" stroke="#000" stroke-width="1"/>
<rect x="1032.5" y="1023.50" width="9" height="135.00" fill="#c76a9a" stroke="#000" stroke-width="1"/>
<rect x="1041.5" y="1041.50" width="9" height="117.00" fill="#a8507c" stroke="#000" stroke-width="1"/>
<path d="M153.9 965.50h5.6" stroke="#000" stroke-width="1"/>
<text transform="translate(148.3 970.1) scale(1.07 1)" font-size="15.5" text-anchor="end">100</text>
<path d="M153.9 984.50h5.6" stroke="#000" stroke-width="1"/>
<text transform="translate(148.3 989.4) scale(1.07 1)" font-size="15.5" text-anchor="end">90</text>
<path d="M153.9 1004.50h5.6" stroke="#000" stroke-width="1"/>
<text transform="translate(148.3 1008.7) scale(1.07 1)" font-size="15.5" text-anchor="end">80</text>
<path d="M153.9 1023.50h5.6" stroke="#000" stroke-width="1"/>
<text transform="translate(148.3 1028.0) scale(1.07 1)" font-size="15.5" text-anchor="end">70</text>
<path d="M153.9 1042.50h5.6" stroke="#000" stroke-width="1"/>
<text transform="translate(148.3 1047.3) scale(1.07 1)" font-size="15.5" text-anchor="end">60</text>
<path d="M153.9 1061.50h5.6" stroke="#000" stroke-width="1"/>
<text transform="translate(148.3 1066.6) scale(1.07 1)" font-size="15.5" text-anchor="end">50</text>
<path d="M153.9 1081.50h5.6" stroke="#000" stroke-width="1"/>
<text transform="translate(148.3 1085.9) scale(1.07 1)" font-size="15.5" text-anchor="end">40</text>
<path d="M153.9 1100.50h5.6" stroke="#000" stroke-width="1"/>
<text transform="translate(148.3 1105.2) scale(1.07 1)" font-size="15.5" text-anchor="end">30</text>
<path d="M153.9 1119.50h5.6" stroke="#000" stroke-width="1"/>
<text transform="translate(148.3 1124.5) scale(1.07 1)" font-size="15.5" text-anchor="end">20</text>
<path d="M153.9 1139.50h5.6" stroke="#000" stroke-width="1"/>
<text transform="translate(148.3 1143.8) scale(1.07 1)" font-size="15.5" text-anchor="end">10</text>
<path d="M153.9 1158.50h5.6" stroke="#000" stroke-width="1"/>
<text transform="translate(148.3 1163.1) scale(1.07 1)" font-size="15.5" text-anchor="end">0</text>
<text transform="translate(164.0 1179) scale(1.08 1)" font-size="15" text-anchor="middle">1</text>
<text transform="translate(200.0 1179) scale(1.08 1)" font-size="15" text-anchor="middle">5</text>
<text transform="translate(236.0 1179) scale(1.08 1)" font-size="15" text-anchor="middle">9</text>
<text transform="translate(272.0 1179) scale(1.08 1)" font-size="15" text-anchor="middle">13</text>
<text transform="translate(308.0 1179) scale(1.08 1)" font-size="15" text-anchor="middle">17</text>
<text transform="translate(344.0 1179) scale(1.08 1)" font-size="15" text-anchor="middle">21</text>
<text transform="translate(380.0 1179) scale(1.08 1)" font-size="15" text-anchor="middle">25</text>
<text transform="translate(416.0 1179) scale(1.08 1)" font-size="15" text-anchor="middle">29</text>
<text transform="translate(452.0 1179) scale(1.08 1)" font-size="15" text-anchor="middle">33</text>
<text transform="translate(488.0 1179) scale(1.08 1)" font-size="15" text-anchor="middle">37</text>
<text transform="translate(524.0 1179) scale(1.08 1)" font-size="15" text-anchor="middle">41</text>
<text transform="translate(560.0 1179) scale(1.08 1)" font-size="15" text-anchor="middle">45</text>
<text transform="translate(596.0 1179) scale(1.08 1)" font-size="15" text-anchor="middle">49</text>
<text transform="translate(632.0 1179) scale(1.08 1)" font-size="15" text-anchor="middle">53</text>
<text transform="translate(668.0 1179) scale(1.08 1)" font-size="15" text-anchor="middle">57</text>
<text transform="translate(704.0 1179) scale(1.08 1)" font-size="15" text-anchor="middle">61</text>
<text transform="translate(740.0 1179) scale(1.08 1)" font-size="15" text-anchor="middle">65</text>
<text transform="translate(776.0 1179) scale(1.08 1)" font-size="15" text-anchor="middle">69</text>
<text transform="translate(812.0 1179) scale(1.08 1)" font-size="15" text-anchor="middle">73</text>
<text transform="translate(848.0 1179) scale(1.08 1)" font-size="15" text-anchor="middle">77</text>
<text transform="translate(884.0 1179) scale(1.08 1)" font-size="15" text-anchor="middle">81</text>
<text transform="translate(920.0 1179) scale(1.08 1)" font-size="15" text-anchor="middle">85</text>
<text transform="translate(956.0 1179) scale(1.08 1)" font-size="15" text-anchor="middle">89</text>
<text transform="translate(992.0 1179) scale(1.08 1)" font-size="15" text-anchor="middle">93</text>
<text transform="translate(1028.0 1179) scale(1.08 1)" font-size="15" text-anchor="middle">97</text>
<text transform="translate(98.8 1069) rotate(-90) scale(0.9737 1)" font-size="16.5" text-anchor="middle">Color Sample Fidelity, R<tspan font-size="13" dy="8">f,CESi</tspan></text>
<text x="604.3" y="1200" font-size="16" text-anchor="middle" textLength="78.5" lengthAdjust="spacingAndGlyphs">CES Color</text>
<rect x="145" y="1216" width="455" height="207.5" fill="#e6e6e6"/>
<text x="90.4" y="1230.5" font-size="16" font-weight="bold" textLength="55" lengthAdjust="spacingAndGlyphs">Notes:</text>
<text x="155" y="1236" font-size="16" textLength="55.5" lengthAdjust="spacingAndGlyphs">Level 3</text>
<text x="640" y="1250.7" font-size="16" font-weight="bold">x</text>
<text x="732.5" y="1250.7" font-size="16" text-anchor="end" font-weight="bold" textLength="58" lengthAdjust="spacingAndGlyphs">0.3172</text>
<text x="640" y="1280.7" font-size="16" font-weight="bold">y</text>
<text x="732.5" y="1280.7" font-size="16" text-anchor="end" font-weight="bold" textLength="58" lengthAdjust="spacingAndGlyphs">0.3256</text>
<text x="640" y="1310.7" font-size="16" font-weight="bold">u'</text>
<text x="732.5" y="1310.7" font-size="16" text-anchor="end" font-weight="bold" textLength="58" lengthAdjust="spacingAndGlyphs">0.2023</text>
<text x="640" y="1340.7" font-size="16" font-weight="bold">v'</text>
<text x="732.5" y="1340.7" font-size="16" text-anchor="end" font-weight="bold" textLength="58" lengthAdjust="spacingAndGlyphs">0.4671</text>
<rect x="771.5" y="1216.5" width="198" height="207" fill="#fff" stroke="#000" stroke-width="1"/>
<text x="870" y="1246.2" font-size="16" text-anchor="middle" font-weight="bold" textLength="125" lengthAdjust="spacingAndGlyphs">CIE 13.3–1995</text>
<text x="870" y="1276.2" font-size="16" text-anchor="middle" font-weight="bold" textLength="40.5" lengthAdjust="spacingAndGlyphs">(CRI)</text>
<text x="841.5" y="1306.2" font-size="16" font-weight="bold">R<tspan font-size="12" dy="7.5">a</tspan></text>
<text x="878" y="1306.2" font-size="16" font-weight="bold" textLength="21.5" lengthAdjust="spacingAndGlyphs">68</text>
<text x="835.5" y="1336.2" font-size="16" font-weight="bold">R<tspan font-size="12" dy="7.5">9</tspan></text>
<text x="873.5" y="1336.2" font-size="16" font-weight="bold" textLength="32" lengthAdjust="spacingAndGlyphs">−27</text>
<text x="389" y="1450" font-size="16" font-weight="bold" textLength="423" lengthAdjust="spacingAndGlyphs">Colors are for visual orientation purposes only.</text>
<defs><linearGradient id="g0"><stop offset="0.0000" stop-color="#94d87e"/><stop offset="0.0625" stop-color="#9fd57e"/><stop offset="0.1250" stop-color="#a9d37e"/><stop offset="0.1875" stop-color="#b3d17f"/><stop offset="0.2500" stop-color="#bccf7f"/><stop offset="0.3125" stop-color="#c5cc7f"/><stop offset="0.3750" stop-color="#ceca80"/><stop offset="0.4375" stop-color="#d6c780"/><stop offset="0.5000" stop-color="#dec480"/><stop offset="0.5625" stop-color="#e6c180"/><stop offset="0.6250" stop-color="#eebe81"/><stop offset="0.6875" stop-color="#f6bb81"/><stop offset="0.7500" stop-color="#fdb881"/><stop offset="0.8125" stop-color="#ffb482"/><stop offset="0.8750" stop-color="#ffb182"/><stop offset="0.9375" stop-color="#ffad82"/><stop offset="1.0000" stop-color="#ffa983"/></linearGradient><linearGradient id="g1"><stop offset="0.0000" stop-color="#93d87f"/><stop offset="0.0625" stop-color="#9ed57f"/><stop offset="0.1250" stop-color="#a9d380"/><stop offset="0.1875" stop-color="#b2d180"/><stop offset="0.2500" stop-color="#bccf80"/><stop offset="0.3125" stop-color="#c5cc80"/><stop offset="0.3750" stop-color="#cdca81"/><stop offset="0.4375" stop-color="#d6c781"/><stop offset="0.5000" stop-color="#dec481"/><stop offset="0.5625" stop-color="#e6c182"/><stop offset="0.6250" stop-color="#eebe82"/><stop offset="0.6875" stop-color="#f5bb82"/><stop offset="0.7500" stop-color="#fdb882"/><stop offset="0.8125" stop-color="#ffb483"/><stop offset="0.8750" stop-color="#ffb183"/><stop offset="0.9375" stop-color="#ffad83"/><stop offset="1.0000" stop-color="#ffa984"/></linearGradient><linearGradient id="g2"><stop offset="0.0000" stop-color="#93d880"/><stop offset="0.0625" stop-color="#9ed681"/><stop offset="0.1250" stop-color="#a8d381"/><stop offset="0.1875" stop-color="#b2d181"/><stop offset="0.2500" stop-color="#bbcf81"/><stop offset="0.3125" stop-color="#c4cc82"/><stop offset="0.3750" stop-color="#cdca82"/><stop offset="0.4375" stop-color="#d5c782"/><stop offset="0.5000" stop-color="#dec482"/><stop offset="0.5625" stop-color="#e6c183"/><stop offset="0.6250" stop-color="#edbe83"/><stop offset="0.6875" stop-color="#f5bb83"/><stop offset="0.7500" stop-color="#fdb884"/><stop offset="0.8125" stop-color="#ffb484"/><stop offset="0.8750" stop-color="#ffb184"/><stop offset="0.9375" stop-color="#ffad85"/><stop offset="1.0000" stop-color="#ffa985"/></linearGradient><linearGradient id="g3"><stop offset="0.0000" stop-color="#93d882"/><stop offset="0.0625" stop-color="#9ed682"/><stop offset="0.1250" stop-color="#a8d382"/><stop offset="0.1875" stop-color="#b2d182"/><stop offset="0.2500" stop-color="#bbcf83"/><stop offset="0.3125" stop-color="#c4cc83"/><stop offset="0.3750" stop-color="#cdca83"/><stop offset="0.4375" stop-color="#d5c783"/><stop offset="0.5000" stop-color="#ddc484"/><stop offset="0.5625" stop-color="#e5c184"/><stop offset="0.6250" stop-color="#edbe84"/><stop offset="0.6875" stop-color="#f5bb85"/><stop offset="0.7500" stop-color="#fcb885"/><stop offset="0.8125" stop-color="#ffb485"/><stop offset="0.8750" stop-color="#ffb185"/><stop offset="0.9375" stop-color="#ffad86"/><stop offset="1.0000" stop-color="#ffa986"/></linearGradient><linearGradient id="g4"><stop offset="0.0000" stop-color="#92d883"/><stop offset="0.0625" stop-color="#9dd683"/><stop offset="0.1250" stop-color="#a7d383"/><stop offset="0.1875" stop-color="#b1d184"/><stop offset="0.2500" stop-color="#bbcf84"/><stop offset="0.3125" stop-color="#c4cc84"/><stop offset="0.3750" stop-color="#ccca84"/><stop offset="0.4375" stop-color="#d5c785"/><stop offset="0.5000" stop-color="#ddc485"/><stop offset="0.5625" stop-color="#e5c185"/><stop offset="0.6250" stop-color="#edbe85"/><stop offset="0.6875" stop-color="#f5bb86"/><stop offset="0.7500" stop-color="#fcb886"/><stop offset="0.8125" stop-color="#ffb486"/><stop offset="0.8750" stop-color="#ffb187"/><stop offset="0.9375" stop-color="#ffad87"/><stop offset="1.0000" stop-color="#ffa987"/></linearGradient><linearGradient id="g5"><stop offset="0.0000" stop-color="#92d884"/><stop offset="0.0625" stop-color="#9dd684"/><stop offset="0.1250" stop-color="#a7d385"/><stop offset="0.1875" stop-color="#b1d185"/><stop offset="0.2500" stop-color="#bacf85"/><stop offset="0.3125" stop-color="#c3cc85"/><stop offset="0.3750" stop-color="#ccca86"/><stop offset="0.4375" stop-color="#d5c786"/><stop offset="0.5000" stop-color="#ddc486"/><stop offset="0.5625" stop-color="#e5c186"/><stop offset="0.6250" stop-color="#edbe87"/><stop offset="0.6875" stop-color="#f4bb87"/><stop offset="0.7500" stop-color="#fcb887"/><stop offset="0.8125" stop-color="#ffb587"/><stop offset="0.8750" stop-color="#ffb188"/><stop offset="0.9375" stop-color="#ffad88"/><stop offset="1.0000" stop-color="#ffa988"/></linearGradient><linearGradient id="g6"><stop offset="0.0000" stop-color="#91d885"/><stop offset="0.0625" stop-color="#9cd686"/><stop offset="0.1250" stop-color="#a7d386"/><stop offset="0.1875" stop-color="#b1d186"/><stop offset="0.2500" stop-color="#bacf86"/><stop offset="0.3125" stop-color="#c3cc86"/><stop offset="0.3750" stop-color="#ccca87"/><stop offset="0.4375" stop-color="#d4c787"/><stop offset="0.5000" stop-color="#ddc487"/><stop offset="0.5625" stop-color="#e5c188"/><stop offset="0.6250" stop-color="#ecbe88"/><stop offset="0.6875" stop-color="#f4bb88"/><stop offset="0.7500" stop-color="#fcb888"/><stop offset="0.8125" stop-color="#ffb589"/><stop offset="0.8750" stop-color="#ffb189"/><stop offset="0.9375" stop-color="#ffad89"/><stop offset="1.0000" stop-color="#ffa98a"/></linearGradient><linearGradient id="g7"><stop offset="0.0000" stop-color="#90d887"/><stop offset="0.0625" stop-color="#9cd687"/><stop offset="0.1250" stop-color="#a6d387"/><stop offset="0.1875" stop-color="#b0d187"/><stop offset="0.2500" stop-color="#bacf87"/><stop offset="0.3125" stop-color="#c3cc88"/><stop offset="0.3750" stop-color="#cbca88"/><stop offset="0.4375" stop-color="#d4c788"/><stop offset="0.5000" stop-color="#dcc488"/><stop offset="0.5625" stop-color="#e4c189"/><stop offset="0.6250" stop-color="#ecbe89"/><stop offset="0.6875" stop-color="#f4bb89"/><stop offset="0.7500" stop-color="#fbb88a"/><stop offset="0.8125" stop-color="#ffb58a"/><stop offset="0.8750" stop-color="#ffb18a"/><stop offset="0.9375" stop-color="#ffad8a"/><stop offset="1.0000" stop-color="#ffa98b"/></linearGradient><linearGradient id="g8"><stop offset="0.0000" stop-color="#90d888"/><stop offset="0.0625" stop-color="#9bd688"/><stop offset="0.1250" stop-color="#a6d388"/><stop offset="0.1875" stop-color="#b0d188"/><stop offset="0.2500" stop-color="#b9cf89"/><stop offset="0.3125" stop-color="#c2cc89"/><stop offset="0.3750" stop-color="#cbca89"/><stop offset="0.4375" stop-color="#d4c789"/><stop offset="0.5000" stop-color="#dcc48a"/><stop offset="0.5625" stop-color="#e4c28a"/><stop offset="0.6250" stop-color="#ecbe8a"/><stop offset="0.6875" stop-color="#f4bb8a"/><stop offset="0.7500" stop-color="#fbb88b"/><stop offset="0.8125" stop-color="#ffb58b"/><stop offset="0.8750" stop-color="#ffb18b"/><stop offset="0.9375" stop-color="#ffad8c"/><stop offset="1.0000" stop-color="#ffa98c"/></linearGradient><linearGradient id="g9"><stop offset="0.0000" stop-color="#8fd889"/><stop offset="0.0625" stop-color="#9bd689"/><stop offset="0.1250" stop-color="#a5d389"/><stop offset="0.1875" stop-color="#afd18a"/><stop offset="0.2500" stop-color="#b9cf8a"/><stop offset="0.3125" stop-color="#c2cc8a"/><stop offset="0.3750" stop-color="#cbca8a"/><stop offset="0.4375" stop-color="#d3c78b"/><stop offset="0.5000" stop-color="#dcc48b"/><stop offset="0.5625" stop-color="#e4c28b"/><stop offset="0.6250" stop-color="#ecbf8b"/><stop offset="0.6875" stop-color="#f3bb8c"/><stop offset="0.7500" stop-color="#fbb88c"/><stop offset="0.8125" stop-color="#ffb58c"/><stop offset="0.8750" stop-color="#ffb18c"/><stop offset="0.9375" stop-color="#ffad8d"/><stop offset="1.0000" stop-color="#ffa98d"/></linearGradient><linearGradient id="g10"><stop offset="0.0000" stop-color="#8fd88a"/><stop offset="0.0625" stop-color="#9ad68a"/><stop offset="0.1250" stop-color="#a5d48b"/><stop offset="0.1875" stop-color="#afd18b"/><stop offset="0.2500" stop-color="#b8cf8b"/><stop offset="0.3125" stop-color="#c2cc8b"/><stop offset="0.3750" stop-color="#caca8b"/><stop offset="0.4375" stop-color="#d3c78c"/><stop offset="0.5000" stop-color="#dbc48c"/><stop offset="0.5625" stop-color="#e3c28c"/><stop offset="0.6250" stop-color="#ebbf8c"/><stop offset="0.6875" stop-color="#f3bb8d"/><stop offset="0.7500" stop-color="#fbb88d"/><stop offset="0.8125" stop-color="#ffb58d"/><stop offset="0.8750" stop-color="#ffb18e"/><stop offset="0.9375" stop-color="#ffad8e"/><stop offset="1.0000" stop-color="#ffa98e"/></linearGradient><linearGradient id="g11"><stop offset="0.0000" stop-color="#8ed88b"/><stop offset="0.0625" stop-color="#9ad68c"/><stop offset="0.1250" stop-color="#a4d48c"/><stop offset="0.1875" stop-color="#aed18c"/><stop offset="0.2500" stop-color="#b8cf8c"/><stop offset="0.3125" stop-color="#c1cc8c"/><stop offset="0.3750" stop-color="#caca8d"/><stop offset="0.4375" stop-color="#d3c78d"/><stop offset="0.5000" stop-color="#dbc58d"/><stop offset="0.5625" stop-color="#e3c28d"/><stop offset="0.6250" stop-color="#ebbf8e"/><stop offset="0.6875" stop-color="#f3bb8e"/><stop offset="0.7500" stop-color="#fab88e"/><stop offset="0.8125" stop-color="#ffb58e"/><stop offset="0.8750" stop-color="#ffb18f"/><stop offset="0.9375" stop-color="#ffad8f"/><stop offset="1.0000" stop-color="#ffa98f"/></linearGradient><linearGradient id="g12"><stop offset="0.0000" stop-color="#8ed88d"/><stop offset="0.0625" stop-color="#99d68d"/><stop offset="0.1250" stop-color="#a4d48d"/><stop offset="0.1875" stop-color="#aed18d"/><stop offset="0.2500" stop-color="#b8cf8d"/><stop offset="0.3125" stop-color="#c1cc8e"/><stop offset="0.3750" stop-color="#caca8e"/><stop offset="0.4375" stop-color="#d2c78e"/><stop offset="0.5000" stop-color="#dbc58f"/><stop offset="0.5625" stop-color="#e3c28f"/><stop offset="0.6250" stop-color="#ebbf8f"/><stop offset="0.6875" stop-color="#f2bb8f"/><stop offset="0.7500" stop-color="#fab88f"/><stop offset="0.8125" stop-color="#ffb590"/><stop offset="0.8750" stop-color="#ffb190"/><stop offset="0.9375" stop-color="#ffad90"/><stop offset="1.0000" stop-color="#ffa990"/></linearGradient><linearGradient id="g13"><stop offset="0.0000" stop-color="#8dd88e"/><stop offset="0.0625" stop-color="#99d68e"/><stop offset="0.1250" stop-color="#a3d48e"/><stop offset="0.1875" stop-color="#aed18e"/><stop offset="0.2500" stop-color="#b7cf8f"/><stop offset="0.3125" stop-color="#c0cd8f"/><stop offset="0.3750" stop-color="#c9ca8f"/><stop offset="0.4375" stop-color="#d2c890"/><stop offset="0.5000" stop-color="#dbc590"/><stop offset="0.5625" stop-color="#e3c290"/><stop offset="0.6250" stop-color="#eabf90"/><stop offset="0.6875" stop-color="#f2bc90"/><stop offset="0.7500" stop-color="#fab891"/><stop offset="0.8125" stop-color="#ffb591"/><stop offset="0.8750" stop-color="#ffb191"/><stop offset="0.9375" stop-color="#ffad91"/><stop offset="1.0000" stop-color="#ffa992"/></linearGradient><linearGradient id="g14"><stop offset="0.0000" stop-color="#8dd88f"/><stop offset="0.0625" stop-color="#98d68f"/><stop offset="0.1250" stop-color="#a3d48f"/><stop offset="0.1875" stop-color="#add190"/><stop offset="0.2500" stop-color="#b7cf90"/><stop offset="0.3125" stop-color="#c0cd90"/><stop offset="0.3750" stop-color="#c9ca90"/><stop offset="0.4375" stop-color="#d2c891"/><stop offset="0.5000" stop-color="#dbc692"/><stop offset="0.5625" stop-color="#e3c392"/><stop offset="0.6250" stop-color="#eabf91"/><stop offset="0.6875" stop-color="#f2bc91"/><stop offset="0.7500" stop-color="#fab892"/><stop offset="0.8125" stop-color="#ffb592"/><stop offset="0.8750" stop-color="#ffb192"/><stop offset="0.9375" stop-color="#ffad92"/><stop offset="1.0000" stop-color="#ffa993"/></linearGradient><linearGradient id="g15"><stop offset="0.0000" stop-color="#8cd890"/><stop offset="0.0625" stop-color="#98d690"/><stop offset="0.1250" stop-color="#a3d491"/><stop offset="0.1875" stop-color="#add191"/><stop offset="0.2500" stop-color="#b6cf91"/><stop offset="0.3125" stop-color="#c0cd91"/><stop offset="0.3750" stop-color="#c9ca92"/><stop offset="0.4375" stop-color="#d3c993"/><stop offset="0.5000" stop-color="#dcc794"/><stop offset="0.5625" stop-color="#e3c393"/><stop offset="0.6250" stop-color="#eabf93"/><stop offset="0.6875" stop-color="#f2bc93"/><stop offset="0.7500" stop-color="#f9b893"/><stop offset="0.8125" stop-color="#ffb593"/><stop offset="0.8750" stop-color="#ffb193"/><stop offset="0.9375" stop-color="#ffad94"/><stop offset="1.0000" stop-color="#ffa994"/></linearGradient><linearGradient id="g16"><stop offset="0.0000" stop-color="#8bd891"/><stop offset="0.0625" stop-color="#97d691"/><stop offset="0.1250" stop-color="#a2d492"/><stop offset="0.1875" stop-color="#acd192"/><stop offset="0.2500" stop-color="#b6cf92"/><stop offset="0.3125" stop-color="#bfcd92"/><stop offset="0.3750" stop-color="#c9cb93"/><stop offset="0.4375" stop-color="#d3ca95"/><stop offset="0.5000" stop-color="#dcc796"/><stop offset="0.5625" stop-color="#e4c495"/><stop offset="0.6250" stop-color="#eac094"/><stop offset="0.6875" stop-color="#f1bc94"/><stop offset="0.7500" stop-color="#f9b894"/><stop offset="0.8125" stop-color="#ffb594"/><stop offset="0.8750" stop-color="#ffb195"/><stop offset="0.9375" stop-color="#ffad95"/><stop offset="1.0000" stop-color="#ffaa95"/></linearGradient><linearGradient id="g17"><stop offset="0.0000" stop-color="#8bd892"/><stop offset="0.0625" stop-color="#97d693"/><stop offset="0.1250" stop-color="#a2d493"/><stop offset="0.1875" stop-color="#acd193"/><stop offset="0.2500" stop-color="#b6cf93"/><stop offset="0.3125" stop-color="#bfcd94"/><stop offset="0.3750" stop-color="#c9cc95"/><stop offset="0.4375" stop-color="#d4cb97"/><stop offset="0.5000" stop-color="#ddc998"/><stop offset="0.5625" stop-color="#e5c597"/><stop offset="0.6250" stop-color="#ebc096"/><stop offset="0.6875" stop-color="#f1bc95"/><stop offset="0.7500" stop-color="#f9b895"/><stop offset="0.8125" stop-color="#ffb595"/><stop offset="0.8750" stop-color="#ffb196"/><stop offset="0.9375" stop-color="#ffae96"/><stop offset="1.0000" stop-color="#ffaa96"/></linearGradient><linearGradient id="g18"><stop offset="0.0000" stop-color="#8ad894"/><stop offset="0.0625" stop-color="#96d694"/><stop offset="0.1250" stop-color="#a1d494"/><stop offset="0.1875" stop-color="#abd194"/><stop offset="0.2500" stop-color="#b5cf94"/><stop offset="0.3125" stop-color="#bfcd95"/><stop offset="0.3750" stop-color="#cacc97"/><stop offset="0.4375" stop-color="#d5cc99"/><stop offset="0.5000" stop-color="#deca9a"/><stop offset="0.5625" stop-color="#e5c69a"/><stop offset="0.6250" stop-color="#ebc198"/><stop offset="0.6875" stop-color="#f1bc96"/><stop offset="0.7500" stop-color="#f8b896"/><stop offset="0.8125" stop-color="#ffb597"/><stop offset="0.8750" stop-color="#ffb197"/><stop offset="0.9375" stop-color="#ffae97"/><stop offset="1.0000" stop-color="#ffaa97"/></linearGradient><linearGradient id="g19"><stop offset="0.0000" stop-color="#8ad895"/><stop offset="0.0625" stop-color="#96d695"/><stop offset="0.1250" stop-color="#a1d495"/><stop offset="0.1875" stop-color="#abd295"/><stop offset="0.2500" stop-color="#b5cf96"/><stop offset="0.3125" stop-color="#bfcd97"/><stop offset="0.3750" stop-color="#cacd99"/><stop offset="0.4375" stop-color="#d6cd9c"/><stop offset="0.5000" stop-color="#dfcb9d"/><stop offset="0.5625" stop-color="#e6c79c"/><stop offset="0.6250" stop-color="#ecc29a"/><stop offset="0.6875" stop-color="#f1bc98"/><stop offset="0.7500" stop-color="#f8b897"/><stop offset="0.8125" stop-color="#ffb598"/><stop offset="0.8750" stop-color="#ffb198"/><stop offset="0.9375" stop-color="#ffae98"/><stop offset="1.0000" stop-color="#ffaa99"/></linearGradient><linearGradient id="g20"><stop offset="0.0000" stop-color="#89d896"/><stop offset="0.0625" stop-color="#95d696"/><stop offset="0.1250" stop-color="#a0d496"/><stop offset="0.1875" stop-color="#aad297"/><stop offset="0.2500" stop-color="#b4cf97"/><stop offset="0.3125" stop-color="#bfce98"/><stop offset="0.3750" stop-color="#cbce9b"/><stop offset="0.4375" stop-color="#d7ce9e"/><stop offset="0.5000" stop-color="#e0cd9f"/><stop offset="0.5625" stop-color="#e7c99e"/><stop offset="0.6250" stop-color="#edc39c"/><stop offset="0.6875" stop-color="#f1bd9a"/><stop offset="0.7500" stop-color="#f8b899"/><stop offset="0.8125" stop-color="#ffb599"/><stop offset="0.8750" stop-color="#ffb199"/><stop offset="0.9375" stop-color="#ffae99"/><stop offset="1.0000" stop-color="#ffaa9a"/></linearGradient><linearGradient id="g21"><stop offset="0.0000" stop-color="#88d897"/><stop offset="0.0625" stop-color="#94d697"/><stop offset="0.1250" stop-color="#a0d498"/><stop offset="0.1875" stop-color="#aad298"/><stop offset="0.2500" stop-color="#b4cf98"/><stop offset="0.3125" stop-color="#bfcf9a"/><stop offset="0.3750" stop-color="#ccd09e"/><stop offset="0.4375" stop-color="#d8d0a1"/><stop offset="0.5000" stop-color="#e1cea2"/><stop offset="0.5625" stop-color="#e9caa1"/><stop offset="0.6250" stop-color="#eec49e"/><stop offset="0.6875" stop-color="#f2be9b"/><stop offset="0.7500" stop-color="#f8b89a"/><stop offset="0.8125" stop-color="#ffb59a"/><stop offset="0.8750" stop-color="#ffb19a"/><stop offset="0.9375" stop-color="#ffae9b"/><stop offset="1.0000" stop-color="#ffaa9b"/></linearGradient><linearGradient id="g22"><stop offset="0.0000" stop-color="#88d898"/><stop offset="0.0625" stop-color="#94d699"/><stop offset="0.1250" stop-color="#9fd499"/><stop offset="0.1875" stop-color="#a9d299"/><stop offset="0.2500" stop-color="#b3cf99"/><stop offset="0.3125" stop-color="#bfcf9c"/><stop offset="0.3750" stop-color="#cdd1a0"/><stop offset="0.4375" stop-color="#d9d1a3"/><stop offset="0.5000" stop-color="#e3d0a5"/><stop offset="0.5625" stop-color="#eacca4"/><stop offset="0.6250" stop-color="#efc5a1"/><stop offset="0.6875" stop-color="#f2be9d"/><stop offset="0.7500" stop-color="#f7b99b"/><stop offset="0.8125" stop-color="#ffb59b"/><stop offset="0.8750" stop-color="#ffb29b"/><stop offset="0.9375" stop-color="#ffae9c"/><stop offset="1.0000" stop-color="#ffaa9c"/></linearGradient><linearGradient id="g23"><stop offset="0.0000" stop-color="#87d89a"/><stop offset="0.0625" stop-color="#93d69a"/><stop offset="0.1250" stop-color="#9ed49a"/><stop offset="0.1875" stop-color="#a9d29a"/><stop offset="0.2500" stop-color="#b3d09b"/><stop offset="0.3125" stop-color="#c0d09e"/><stop offset="0.3750" stop-color="#ced2a2"/><stop offset="0.4375" stop-color="#dad3a6"/><stop offset="0.5000" stop-color="#e4d2a8"/><stop offset="0.5625" stop-color="#ebcda7"/><stop offset="0.6250" stop-color="#f0c7a3"/><stop offset="0.6875" stop-color="#f3bf9f"/><stop offset="0.7500" stop-color="#f7b99c"/><stop offset="0.8125" stop-color="#ffb59c"/><stop offset="0.8750" stop-color="#ffb29d"/><stop offset="0.9375" stop-color="#ffae9d"/><stop offset="1.0000" stop-color="#ffaa9d"/></linearGradient><linearGradient id="g24"><stop offset="0.0000" stop-color="#86d89b"/><stop offset="0.0625" stop-color="#93d69b"/><stop offset="0.1250" stop-color="#9ed49b"/><stop offset="0.1875" stop-color="#a8d29b"/><stop offset="0.2500" stop-color="#b3d09c"/><stop offset="0.3125" stop-color="#c0d1a0"/><stop offset="0.3750" stop-color="#cfd4a5"/><stop offset="0.4375" stop-color="#dcd5a9"/><stop offset="0.5000" stop-color="#e6d4ab"/><stop offset="0.5625" stop-color="#edcfa9"/><stop offset="0.6250" stop-color="#f1c8a6"/><stop offset="0.6875" stop-color="#f4c0a1"/><stop offset="0.7500" stop-color="#f7b99e"/><stop offset="0.8125" stop-color="#feb59d"/><stop offset="0.8750" stop-color="#ffb29e"/><stop offset="0.9375" stop-color="#ffae9e"/><stop offset="1.0000" stop-color="#ffaa9e"/></linearGradient><linearGradient id="g25"><stop offset="0.0000" stop-color="#86d89c"/><stop offset="0.0625" stop-color="#92d69c"/><stop offset="0.1250" stop-color="#9dd49c"/><stop offset="0.1875" stop-color="#a8d29c"/><stop offset="0.2500" stop-color="#b3d09e"/><stop offset="0.3125" stop-color="#c1d2a2"/><stop offset="0.3750" stop-color="#d0d5a8"/><stop offset="0.4375" stop-color="#ddd7ac"/><stop offset="0.5000" stop-color="#e7d6ae"/><stop offset="0.5625" stop-color="#eed1ac"/><stop offset="0.6250" stop-color="#f2caa8"/><stop offset="0.6875" stop-color="#f4c1a3"/><stop offset="0.7500" stop-color="#f7ba9f"/><stop offset="0.8125" stop-color="#feb59f"/><stop offset="0.8750" stop-color="#ffb29f"/><stop offset="0.9375" stop-color="#ffae9f"/><stop offset="1.0000" stop-color="#ffaa9f"/></linearGradient><linearGradient id="g26"><stop offset="0.0000" stop-color="#85d89d"/><stop offset="0.0625" stop-color="#91d69d"/><stop offset="0.1250" stop-color="#9dd49d"/><stop offset="0.1875" stop-color="#a7d29e"/><stop offset="0.2500" stop-color="#b3d19f"/><stop offset="0.3125" stop-color="#c2d4a4"/><stop offset="0.3750" stop-color="#d1d7aa"/><stop offset="0.4375" stop-color="#ded9af"/><stop offset="0.5000" stop-color="#e9d8b1"/><stop offset="0.5625" stop-color="#f0d3af"/><stop offset="0.6250" stop-color="#f3ccab"/><stop offset="0.6875" stop-color="#f5c3a6"/><stop offset="0.7500" stop-color="#f8baa1"/><stop offset="0.8125" stop-color="#feb5a0"/><stop offset="0.8750" stop-color="#ffb2a0"/><stop offset="0.9375" stop-color="#ffaea0"/><stop offset="1.0000" stop-color="#ffaaa1"/></linearGradient><linearGradient id="g27"><stop offset="0.0000" stop-color="#84d89e"/><stop offset="0.0625" stop-color="#91d69e"/><stop offset="0.1250" stop-color="#9cd49f"/><stop offset="0.1875" stop-color="#a7d29f"/><stop offset="0.2500" stop-color="#b3d2a1"/><stop offset="0.3125" stop-color="#c2d5a7"/><stop offset="0.3750" stop-color="#d2d9ad"/><stop offset="0.4375" stop-color="#e0dbb2"/><stop offset="0.5000" stop-color="#ebdab4"/><stop offset="0.5625" stop-color="#f1d5b2"/><stop offset="0.6250" stop-color="#f5cdae"/><stop offset="0.6875" stop-color="#f6c4a8"/><stop offset="0.7500" stop-color="#f8bba3"/><stop offset="0.8125" stop-color="#fdb5a1"/><stop offset="0.8750" stop-color="#ffb2a1"/><stop offset="0.9375" stop-color="#ffaea1"/><stop offset="1.0000" stop-color="#ffaaa2"/></linearGradient><linearGradient id="g28"><stop offset="0.0000" stop-color="#84d89f"/><stop offset="0.0625" stop-color="#90d6a0"/><stop offset="0.1250" stop-color="#9cd4a0"/><stop offset="0.1875" stop-color="#a6d2a0"/><stop offset="0.2500" stop-color="#b3d2a3"/><stop offset="0.3125" stop-color="#c3d6a9"/><stop offset="0.3750" stop-color="#d3dab0"/><stop offset="0.4375" stop-color="#e2ddb5"/><stop offset="0.5000" stop-color="#ecdcb7"/><stop offset="0.5625" stop-color="#f3d7b5"/><stop offset="0.6250" stop-color="#f6cfb1"/><stop offset="0.6875" stop-color="#f7c5aa"/><stop offset="0.7500" stop-color="#f8bca5"/><stop offset="0.8125" stop-color="#fdb5a2"/><stop offset="0.8750" stop-color="#ffb2a2"/><stop offset="0.9375" stop-color="#ffaea3"/><stop offset="1.0000" stop-color="#ffaaa3"/></linearGradient><linearGradient id="g29"><stop offset="0.0000" stop-color="#83d8a1"/><stop offset="0.0625" stop-color="#90d6a1"/><stop offset="0.1250" stop-color="#9bd4a1"/><stop offset="0.1875" stop-color="#a6d2a1"/><stop offset="0.2500" stop-color="#b4d3a5"/><stop offset="0.3125" stop-color="#c4d8ac"/><stop offset="0.3750" stop-color="#d5dcb3"/><stop offset="0.4375" stop-color="#e3dfb8"/><stop offset="0.5000" stop-color="#eedeba"/><stop offset="0.5625" stop-color="#f5d9b9"/><stop offset="0.6250" stop-color="#f8d1b4"/><stop offset="0.6875" stop-color="#f8c6ad"/><stop offset="0.7500" stop-color="#f9bca6"/><stop offset="0.8125" stop-color="#fdb5a3"/><stop offset="0.8750" stop-color="#ffb2a3"/><stop offset="0.9375" stop-color="#ffaea4"/><stop offset="1.0000" stop-color="#ffaaa4"/></linearGradient><linearGradient id="g30"><stop offset="0.0000" stop-color="#82d8a2"/><stop offset="0.0625" stop-color="#8fd6a2"/><stop offset="0.1250" stop-color="#9bd4a2"/><stop offset="0.1875" stop-color="#a6d2a2"/><stop offset="0.2500" stop-color="#b4d4a7"/><stop offset="0.3125" stop-color="#c5d9ae"/><stop offset="0.3750" stop-color="#d6deb6"/><stop offset="0.4375" stop-color="#e5e1bb"/><stop offset="0.5000" stop-color="#f0e0bd"/><stop offset="0.5625" stop-color="#f6dbbc"/><stop offset="0.6250" stop-color="#f9d3b7"/><stop offset="0.6875" stop-color="#f9c8af"/><stop offset="0.7500" stop-color="#f9bda8"/><stop offset="0.8125" stop-color="#fdb6a5"/><stop offset="0.8750" stop-color="#ffb2a5"/><stop offset="0.9375" stop-color="#ffaea5"/><stop offset="1.0000" stop-color="#ffaaa5"/></linearGradient><linearGradient id="g31"><stop offset="0.0000" stop-color="#82d8a3"/><stop offset="0.0625" stop-color="#8ed6a3"/><stop offset="0.1250" stop-color="#9ad4a3"/><stop offset="0.1875" stop-color="#a5d2a4"/><stop offset="0.2500" stop-color="#b4d5a9"/><stop offset="0.3125" stop-color="#c6dab1"/><stop offset="0.3750" stop-color="#d8e0b9"/><stop offset="0.4375" stop-color="#e7e3be"/><stop offset="0.5000" stop-color="#f2e2c1"/><stop offset="0.5625" stop-color="#f8ddbf"/><stop offset="0.6250" stop-color="#fbd4b9"/><stop offset="0.6875" stop-color="#fbc9b2"/><stop offset="0.7500" stop-color="#fabeaa"/><stop offset="0.8125" stop-color="#fcb6a6"/><stop offset="0.8750" stop-color="#ffb2a6"/><stop offset="0.9375" stop-color="#ffaea6"/><stop offset="1.0000" stop-color="#ffaaa6"/></linearGradient><linearGradient id="g32"><stop offset="0.0000" stop-color="#81d8a4"/><stop offset="0.0625" stop-color="#8ed6a4"/><stop offset="0.1250" stop-color="#99d4a4"/><stop offset="0.1875" stop-color="#a5d3a5"/><stop offset="0.2500" stop-color="#b5d6ab"/><stop offset="0.3125" stop-color="#c7dcb3"/><stop offset="0.3750" stop-color="#d9e2bc"/><stop offset="0.4375" stop-color="#e8e5c2"/><stop offset="0.5000" stop-color="#f3e4c4"/><stop offset="0.5625" stop-color="#fadfc2"/><stop offset="0.6250" stop-color="#fcd6bc"/><stop offset="0.6875" stop-color="#fccbb4"/><stop offset="0.7500" stop-color="#fbbfac"/><stop offset="0.8125" stop-color="#fcb6a7"/><stop offset="0.8750" stop-color="#ffb2a7"/><stop offset="0.9375" stop-color="#ffaea7"/><stop offset="1.0000" stop-color="#ffaaa7"/></linearGradient><linearGradient id="g33"><stop offset="0.0000" stop-color="#80d8a5"/><stop offset="0.0625" stop-color="#8dd6a5"/><stop offset="0.1250" stop-color="#99d4a6"/><stop offset="0.1875" stop-color="#a5d3a7"/><stop offset="0.2500" stop-color="#b5d7ad"/><stop offset="0.3125" stop-color="#c8ddb6"/><stop offset="0.3750" stop-color="#dae4bf"/><stop offset="0.4375" stop-color="#eae7c5"/><stop offset="0.5000" stop-color="#f5e6c7"/><stop offset="0.5625" stop-color="#fce1c5"/><stop offset="0.6250" stop-color="#fed8bf"/><stop offset="0.6875" stop-color="#fdccb7"/><stop offset="0.7500" stop-color="#fbc0ae"/><stop offset="0.8125" stop-color="#fcb6a9"/><stop offset="0.8750" stop-color="#ffb2a8"/><stop offset="0.9375" stop-color="#ffaea8"/><stop offset="1.0000" stop-color="#ffaaa9"/></linearGradient><linearGradient id="g34"><stop offset="0.0000" stop-color="#7fd9a6"/><stop offset="0.0625" stop-color="#8cd6a7"/><stop offset="0.1250" stop-color="#98d4a7"/><stop offset="0.1875" stop-color="#a4d3a8"/><stop offset="0.2500" stop-color="#b6d8af"/><stop offset="0.3125" stop-color="#c9dfb8"/><stop offset="0.3750" stop-color="#dce6c2"/><stop offset="0.4375" stop-color="#ebe9c8"/><stop offset="0.5000" stop-color="#f7e9ca"/><stop offset="0.5625" stop-color="#fde3c8"/><stop offset="0.6250" stop-color="#ffdac2"/><stop offset="0.6875" stop-color="#feceba"/><stop offset="0.7500" stop-color="#fcc1b1"/><stop offset="0.8125" stop-color="#fdb7aa"/><stop offset="0.8750" stop-color="#ffb2a9"/><stop offset="0.9375" stop-color="#ffaea9"/><stop offset="1.0000" stop-color="#ffaaaa"/></linearGradient><linearGradient id="g35"><stop offset="0.0000" stop-color="#7fd9a8"/><stop offset="0.0625" stop-color="#8cd6a8"/><stop offset="0.1250" stop-color="#98d4a8"/><stop offset="0.1875" stop-color="#a4d4aa"/><stop offset="0.2500" stop-color="#b6d9b1"/><stop offset="0.3125" stop-color="#cae0bb"/><stop offset="0.3750" stop-color="#dde7c5"/><stop offset="0.4375" stop-color="#edebcb"/><stop offset="0.5000" stop-color="#f8ebce"/><stop offset="0.5625" stop-color="#ffe5cc"/><stop offset="0.6250" stop-color="#ffdcc5"/><stop offset="0.6875" stop-color="#ffcfbc"/><stop offset="0.7500" stop-color="#fdc2b3"/><stop offset="0.8125" stop-color="#fdb7ac"/><stop offset="0.8750" stop-color="#ffb2aa"/><stop offset="0.9375" stop-color="#ffaeab"/><stop offset="1.0000" stop-color="#ffaaab"/></linearGradient><linearGradient id="g36"><stop offset="0.0000" stop-color="#7ed9a9"/><stop offset="0.0625" stop-color="#8bd6a9"/><stop offset="0.1250" stop-color="#97d4a9"/><stop offset="0.1875" stop-color="#a4d4ab"/><stop offset="0.2500" stop-color="#b6dab3"/><stop offset="0.3125" stop-color="#cbe2be"/><stop offset="0.3750" stop-color="#dee9c8"/><stop offset="0.4375" stop-color="#eeedce"/><stop offset="0.5000" stop-color="#faedd1"/><stop offset="0.5625" stop-color="#ffe7cf"/><stop offset="0.6250" stop-color="#ffdec8"/><stop offset="0.6875" stop-color="#ffd1bf"/><stop offset="0.7500" stop-color="#fdc3b5"/><stop offset="0.8125" stop-color="#fdb8ad"/><stop offset="0.8750" stop-color="#ffb2ab"/><stop offset="0.9375" stop-color="#ffaeac"/><stop offset="1.0000" stop-color="#ffaaac"/></linearGradient><linearGradient id="g37"><stop offset="0.0000" stop-color="#7dd9aa"/><stop offset="0.0625" stop-color="#8ad7aa"/><stop offset="0.1250" stop-color="#96d4aa"/><stop offset="0.1875" stop-color="#a4d5ad"/><stop offset="0.2500" stop-color="#b7dbb5"/><stop offset="0.3125" stop-color="#cce4c0"/><stop offset="0.3750" stop-color="#e0ebca"/><stop offset="0.4375" stop-color="#f0efd1"/><stop offset="0.5000" stop-color="#fcefd4"/><stop offset="0.5625" stop-color="#ffe9d2"/><stop offset="0.6250" stop-color="#ffe0cb"/><stop offset="0.6875" stop-color="#ffd2c2"/><stop offset="0.7500" stop-color="#fec4b7"/><stop offset="0.8125" stop-color="#fdb8af"/><stop offset="0.8750" stop-color="#ffb2ad"/><stop offset="0.9375" stop-color="#ffaead"/><stop offset="1.0000" stop-color="#ffaaad"/></linearGradient><linearGradient id="g38"><stop offset="0.0000" stop-color="#7cd9ab"/><stop offset="0.0625" stop-color="#89d7ab"/><stop offset="0.1250" stop-color="#96d4ab"/><stop offset="0.1875" stop-color="#a4d5af"/><stop offset="0.2500" stop-color="#b7dcb8"/><stop offset="0.3125" stop-color="#cde5c3"/><stop offset="0.3750" stop-color="#e1edcd"/><stop offset="0.4375" stop-color="#f1f1d4"/><stop offset="0.5000" stop-color="#fdf1d7"/><stop offset="0.5625" stop-color="#ffebd5"/><stop offset="0.6250" stop-color="#ffe1ce"/><stop offset="0.6875" stop-color="#ffd4c4"/><stop offset="0.7500" stop-color="#ffc5b9"/><stop offset="0.8125" stop-color="#fdb9b1"/><stop offset="0.8750" stop-color="#ffb2ae"/><stop offset="0.9375" stop-color="#ffaeae"/><stop offset="1.0000" stop-color="#ffaaae"/></linearGradient><linearGradient id="g39"><stop offset="0.0000" stop-color="#7bd9ac"/><stop offset="0.0625" stop-color="#89d7ac"/><stop offset="0.1250" stop-color="#95d4ad"/><stop offset="0.1875" stop-color="#a4d6b0"/><stop offset="0.2500" stop-color="#b8ddba"/><stop offset="0.3125" stop-color="#cee7c6"/><stop offset="0.3750" stop-color="#e2efd0"/><stop offset="0.4375" stop-color="#f3f3d7"/><stop offset="0.5000" stop-color="#fef2da"/><stop offset="0.5625" stop-color="#ffedd8"/><stop offset="0.6250" stop-color="#ffe3d1"/><stop offset="0.6875" stop-color="#ffd5c7"/><stop offset="0.7500" stop-color="#ffc6bb"/><stop offset="0.8125" stop-color="#fdb9b2"/><stop offset="0.8750" stop-color="#ffb2af"/><stop offset="0.9375" stop-color="#ffaeaf"/><stop offset="1.0000" stop-color="#ffaaaf"/></linearGradient><linearGradient id="g40"><stop offset="0.0000" stop-color="#7ad9ad"/><stop offset="0.0625" stop-color="#88d7ae"/><stop offset="0.1250" stop-color="#94d4ae"/><stop offset="0.1875" stop-color="#a4d6b2"/><stop offset="0.2500" stop-color="#b8debc"/><stop offset="0.3125" stop-color="#cfe8c8"/><stop offset="0.3750" stop-color="#e3f0d3"/><stop offset="0.4375" stop-color="#f4f5da"/><stop offset="0.5000" stop-color="#fff4dd"/><stop offset="0.5625" stop-color="#ffefdb"/><stop offset="0.6250" stop-color="#ffe5d4"/><stop offset="0.6875" stop-color="#ffd7c9"/><stop offset="0.7500" stop-color="#ffc7be"/><stop offset="0.8125" stop-color="#febab4"/><stop offset="0.8750" stop-color="#ffb2b0"/><stop offset="0.9375" stop-color="#ffaeb0"/><stop offset="1.0000" stop-color="#ffabb0"/></linearGradient><linearGradient id="g41"><stop offset="0.0000" stop-color="#7ad9af"/><stop offset="0.0625" stop-color="#87d7af"/><stop offset="0.1250" stop-color="#94d4af"/><stop offset="0.1875" stop-color="#a4d7b4"/><stop offset="0.2500" stop-color="#b9dfbe"/><stop offset="0.3125" stop-color="#cfeacb"/><stop offset="0.3750" stop-color="#e4f2d6"/><stop offset="0.4375" stop-color="#f5f6dd"/><stop offset="0.5000" stop-color="#fff6df"/><stop offset="0.5625" stop-color="#fff1dd"/><stop offset="0.6250" stop-color="#ffe6d7"/><stop offset="0.6875" stop-color="#ffd8cc"/><stop offset="0.7500" stop-color="#ffc8c0"/><stop offset="0.8125" stop-color="#febbb6"/><stop offset="0.8750" stop-color="#ffb2b1"/><stop offset="0.9375" stop-color="#ffafb1"/><stop offset="1.0000" stop-color="#ffabb2"/></linearGradient><linearGradient id="g42"><stop offset="0.0000" stop-color="#79d9b0"/><stop offset="0.0625" stop-color="#86d7b0"/><stop offset="0.1250" stop-color="#93d5b0"/><stop offset="0.1875" stop-color="#a4d8b5"/><stop offset="0.2500" stop-color="#b9e0c0"/><stop offset="0.3125" stop-color="#d0ebcd"/><stop offset="0.3750" stop-color="#e5f4d8"/><stop offset="0.4375" stop-color="#f6f8e0"/><stop offset="0.5000" stop-color="#fff7e2"/><stop offset="0.5625" stop-color="#fff2e0"/><stop offset="0.6250" stop-color="#ffe8d9"/><stop offset="0.6875" stop-color="#ffdace"/><stop offset="0.7500" stop-color="#ffcac2"/><stop offset="0.8125" stop-color="#febbb7"/><stop offset="0.8750" stop-color="#ffb2b2"/><stop offset="0.9375" stop-color="#ffafb3"/><stop offset="1.0000" stop-color="#ffabb3"/></linearGradient><linearGradient id="g43"><stop offset="0.0000" stop-color="#78d9b1"/><stop offset="0.0625" stop-color="#86d7b1"/><stop offset="0.1250" stop-color="#92d5b1"/><stop offset="0.1875" stop-color="#a4d8b7"/><stop offset="0.2500" stop-color="#bae1c3"/><stop offset="0.3125" stop-color="#d1ecd0"/><stop offset="0.3750" stop-color="#e6f5db"/><stop offset="0.4375" stop-color="#f7fae2"/><stop offset="0.5000" stop-color="#fff9e5"/><stop offset="0.5625" stop-color="#fff4e3"/><stop offset="0.6250" stop-color="#ffe9dc"/><stop offset="0.6875" stop-color="#ffdbd1"/><stop offset="0.7500" stop-color="#ffcbc4"/><stop offset="0.8125" stop-color="#febcb9"/><stop offset="0.8750" stop-color="#ffb2b4"/><stop offset="0.9375" stop-color="#ffafb4"/><stop offset="1.0000" stop-color="#ffabb4"/></linearGradient><linearGradient id="g44"><stop offset="0.0000" stop-color="#77d9b2"/><stop offset="0.0625" stop-color="#85d7b2"/><stop offset="0.1250" stop-color="#92d5b3"/><stop offset="0.1875" stop-color="#a3d9b9"/><stop offset="0.2500" stop-color="#bae2c5"/><stop offset="0.3125" stop-color="#d2eed2"/><stop offset="0.3750" stop-color="#e7f7de"/><stop offset="0.4375" stop-color="#f8fbe5"/><stop offset="0.5000" stop-color="#fffae7"/><stop offset="0.5625" stop-color="#fff5e5"/><stop offset="0.6250" stop-color="#ffebde"/><stop offset="0.6875" stop-color="#ffdcd3"/><stop offset="0.7500" stop-color="#ffccc6"/><stop offset="0.8125" stop-color="#ffbcbb"/><stop offset="0.8750" stop-color="#ffb3b5"/><stop offset="0.9375" stop-color="#ffafb5"/><stop offset="1.0000" stop-color="#ffabb5"/></linearGradient><linearGradient id="g45"><stop offset="0.0000" stop-color="#76d9b3"/><stop offset="0.0625" stop-color="#84d7b3"/><stop offset="0.1250" stop-color="#91d5b4"/><stop offset="0.1875" stop-color="#a3d9bb"/><stop offset="0.2500" stop-color="#bae3c7"/><stop offset="0.3125" stop-color="#d2efd5"/><stop offset="0.3750" stop-color="#e8f8e0"/><stop offset="0.4375" stop-color="#f9fce7"/><stop offset="0.5000" stop-color="#fffbe9"/><stop offset="0.5625" stop-color="#fff6e8"/><stop offset="0.6250" stop-color="#ffece1"/><stop offset="0.6875" stop-color="#ffded6"/><stop offset="0.7500" stop-color="#ffcdc8"/><stop offset="0.8125" stop-color="#ffbdbc"/><stop offset="0.8750" stop-color="#ffb3b6"/><stop offset="0.9375" stop-color="#ffafb6"/><stop offset="1.0000" stop-color="#ffabb6"/></linearGradient><linearGradient id="g46"><stop offset="0.0000" stop-color="#75d9b4"/><stop offset="0.0625" stop-color="#83d7b5"/><stop offset="0.1250" stop-color="#90d5b5"/><stop offset="0.1875" stop-color="#a3dabc"/><stop offset="0.2500" stop-color="#bbe4c9"/><stop offset="0.3125" stop-color="#d3f0d7"/><stop offset="0.3750" stop-color="#e9f9e3"/><stop offset="0.4375" stop-color="#f9fde9"/><stop offset="0.5000" stop-color="#fffcec"/><stop offset="0.5625" stop-color="#fff7ea"/><stop offset="0.6250" stop-color="#ffeee3"/><stop offset="0.6875" stop-color="#ffdfd8"/><stop offset="0.7500" stop-color="#ffcdca"/><stop offset="0.8125" stop-color="#ffbdbe"/><stop offset="0.8750" stop-color="#ffb3b7"/><stop offset="0.9375" stop-color="#ffafb7"/><stop offset="1.0000" stop-color="#ffabb7"/></linearGradient><linearGradient id="g47"><stop offset="0.0000" stop-color="#74d9b6"/><stop offset="0.0625" stop-color="#82d7b6"/><stop offset="0.1250" stop-color="#90d5b6"/><stop offset="0.1875" stop-color="#a3dbbe"/><stop offset="0.2500" stop-color="#bbe5cb"/><stop offset="0.3125" stop-color="#d3f1d9"/><stop offset="0.3750" stop-color="#e9fae5"/><stop offset="0.4375" stop-color="#fafeec"/><stop offset="0.5000" stop-color="#fffdee"/><stop offset="0.5625" stop-color="#fff8ec"/><stop offset="0.6250" stop-color="#ffefe6"/><stop offset="0.6875" stop-color="#ffe0da"/><stop offset="0.7500" stop-color="#ffcecc"/><stop offset="0.8125" stop-color="#ffbec0"/><stop offset="0.8750" stop-color="#ffb3b9"/><stop offset="0.9375" stop-color="#ffafb8"/><stop offset="1.0000" stop-color="#ffabb8"/></linearGradient><linearGradient id="g48"><stop offset="0.0000" stop-color="#73d9b7"/><stop offset="0.0625" stop-color="#82d7b7"/><stop offset="0.1250" stop-color="#8fd5b8"/><stop offset="0.1875" stop-color="#a3dbc0"/><stop offset="0.2500" stop-color="#bbe6cd"/><stop offset="0.3125" stop-color="#d4f2db"/><stop offset="0.3750" stop-color="#eafce7"/><stop offset="0.4375" stop-color="#faffee"/><stop offset="0.5000" stop-color="#fffeef"/><stop offset="0.5625" stop-color="#fff9ee"/><stop offset="0.6250" stop-color="#fff0e8"/><stop offset="0.6875" stop-color="#ffe1dc"/><stop offset="0.7500" stop-color="#ffcfce"/><stop offset="0.8125" stop-color="#ffbfc1"/><stop offset="0.8750" stop-color="#ffb3ba"/><stop offset="0.9375" stop-color="#ffafb9"/><stop offset="1.0000" stop-color="#ffabba"/></linearGradient><linearGradient id="g49"><stop offset="0.0000" stop-color="#72d9b8"/><stop offset="0.0625" stop-color="#81d7b8"/><stop offset="0.1250" stop-color="#8fd6b9"/><stop offset="0.1875" stop-color="#a3dcc1"/><stop offset="0.2500" stop-color="#bbe7cf"/><stop offset="0.3125" stop-color="#d4f3dd"/><stop offset="0.3750" stop-color="#eafde9"/><stop offset="0.4375" stop-color="#fafff0"/><stop offset="0.5000" stop-color="#fffef1"/><stop offset="0.5625" stop-color="#fffaf0"/><stop offset="0.6250" stop-color="#fff1ea"/><stop offset="0.6875" stop-color="#ffe2de"/><stop offset="0.7500" stop-color="#ffd0d0"/><stop offset="0.8125" stop-color="#ffbfc3"/><stop offset="0.8750" stop-color="#ffb3bb"/><stop offset="0.9375" stop-color="#ffafba"/><stop offset="1.0000" stop-color="#ffabbb"/></linearGradient><linearGradient id="g50"><stop offset="0.0000" stop-color="#71d9b9"/><stop offset="0.0625" stop-color="#80d7b9"/><stop offset="0.1250" stop-color="#8ed6ba"/><stop offset="0.1875" stop-color="#a2dcc3"/><stop offset="0.2500" stop-color="#bbe8d1"/><stop offset="0.3125" stop-color="#d4f4df"/><stop offset="0.3750" stop-color="#eafdeb"/><stop offset="0.4375" stop-color="#fafff1"/><stop offset="0.5000" stop-color="#fffff2"/><stop offset="0.5625" stop-color="#fffbf2"/><stop offset="0.6250" stop-color="#fff2ec"/><stop offset="0.6875" stop-color="#ffe3e1"/><stop offset="0.7500" stop-color="#ffd1d2"/><stop offset="0.8125" stop-color="#ffc0c5"/><stop offset="0.8750" stop-color="#feb4bc"/><stop offset="0.9375" stop-color="#ffafbc"/><stop offset="1.0000" stop-color="#ffabbc"/></linearGradient><linearGradient id="g51"><stop offset="0.0000" stop-color="#70d9ba"/><stop offset="0.0625" stop-color="#7fd7ba"/><stop offset="0.1250" stop-color="#8dd6bc"/><stop offset="0.1875" stop-color="#a2ddc4"/><stop offset="0.2500" stop-color="#bbe8d2"/><stop offset="0.3125" stop-color="#d5f5e1"/><stop offset="0.3750" stop-color="#ebfeed"/><stop offset="0.4375" stop-color="#fafff3"/><stop offset="0.5000" stop-color="#fffff4"/><stop offset="0.5625" stop-color="#fffbf3"/><stop offset="0.6250" stop-color="#fff3ee"/><stop offset="0.6875" stop-color="#ffe4e3"/><stop offset="0.7500" stop-color="#ffd1d4"/><stop offset="0.8125" stop-color="#ffc0c6"/><stop offset="0.8750" stop-color="#feb4be"/><stop offset="0.9375" stop-color="#ffafbd"/><stop offset="1.0000" stop-color="#ffabbd"/></linearGradient><linearGradient id="g52"><stop offset="0.0000" stop-color="#6fd9bb"/><stop offset="0.0625" stop-color="#7ed7bb"/><stop offset="0.1250" stop-color="#8dd6bd"/><stop offset="0.1875" stop-color="#a2ddc6"/><stop offset="0.2500" stop-color="#bbe9d4"/><stop offset="0.3125" stop-color="#d5f6e3"/><stop offset="0.3750" stop-color="#ebffef"/><stop offset="0.4375" stop-color="#fafff4"/><stop offset="0.5000" stop-color="#fffff5"/><stop offset="0.5625" stop-color="#fffbf5"/><stop offset="0.6250" stop-color="#fff3f0"/><stop offset="0.6875" stop-color="#ffe4e4"/><stop offset="0.7500" stop-color="#ffd2d6"/><stop offset="0.8125" stop-color="#ffc0c8"/><stop offset="0.8750" stop-color="#feb4bf"/><stop offset="0.9375" stop-color="#ffafbe"/><stop offset="1.0000" stop-color="#ffabbe"/></linearGradient><linearGradient id="g53"><stop offset="0.0000" stop-color="#6ed9bc"/><stop offset="0.0625" stop-color="#7dd7bd"/><stop offset="0.1250" stop-color="#8cd6be"/><stop offset="0.1875" stop-color="#a1ddc7"/><stop offset="0.2500" stop-color="#bbead6"/><stop offset="0.3125" stop-color="#d5f7e5"/><stop offset="0.3750" stop-color="#ebfff1"/><stop offset="0.4375" stop-color="#f9fff6"/><stop offset="0.5000" stop-color="#fffff6"/><stop offset="0.5625" stop-color="#fffcf6"/><stop offset="0.6250" stop-color="#fff4f2"/><stop offset="0.6875" stop-color="#ffe5e6"/><stop offset="0.7500" stop-color="#ffd3d7"/><stop offset="0.8125" stop-color="#ffc1c9"/><stop offset="0.8750" stop-color="#feb4c0"/><stop offset="0.9375" stop-color="#ffafbf"/><stop offset="1.0000" stop-color="#ffabbf"/></linearGradient><linearGradient id="g54"><stop offset="0.0000" stop-color="#6dd9be"/><stop offset="0.0625" stop-color="#7cd7be"/><stop offset="0.1250" stop-color="#8bd6bf"/><stop offset="0.1875" stop-color="#a1dec9"/><stop offset="0.2500" stop-color="#bbead8"/><stop offset="0.3125" stop-color="#d5f7e7"/><stop offset="0.3750" stop-color="#ebfff3"/><stop offset="0.4375" stop-color="#f9fff7"/><stop offset="0.5000" stop-color="#fffff7"/><stop offset="0.5625" stop-color="#fffcf7"/><stop offset="0.6250" stop-color="#fff4f3"/><stop offset="0.6875" stop-color="#ffe6e8"/><stop offset="0.7500" stop-color="#ffd3d9"/><stop offset="0.8125" stop-color="#ffc1cb"/><stop offset="0.8750" stop-color="#fdb4c1"/><stop offset="0.9375" stop-color="#ffafc0"/><stop offset="1.0000" stop-color="#ffabc0"/></linearGradient><linearGradient id="g55"><stop offset="0.0000" stop-color="#6cd9bf"/><stop offset="0.0625" stop-color="#7bd7bf"/><stop offset="0.1250" stop-color="#8bd7c1"/><stop offset="0.1875" stop-color="#a0deca"/><stop offset="0.2500" stop-color="#baebd9"/><stop offset="0.3125" stop-color="#d5f8e9"/><stop offset="0.3750" stop-color="#eafff4"/><stop offset="0.4375" stop-color="#f8fff8"/><stop offset="0.5000" stop-color="#fffff8"/><stop offset="0.5625" stop-color="#fffcf9"/><stop offset="0.6250" stop-color="#fff5f5"/><stop offset="0.6875" stop-color="#ffe6ea"/><stop offset="0.7500" stop-color="#ffd4da"/><stop offset="0.8125" stop-color="#ffc2cc"/><stop offset="0.8750" stop-color="#fdb4c3"/><stop offset="0.9375" stop-color="#ffafc1"/><stop offset="1.0000" stop-color="#ffabc1"/></linearGradient><linearGradient id="g56"><stop offset="0.0000" stop-color="#6bd9c0"/><stop offset="0.0625" stop-color="#7ad7c0"/><stop offset="0.1250" stop-color="#8ad7c2"/><stop offset="0.1875" stop-color="#a0decc"/><stop offset="0.2500" stop-color="#baebdb"/><stop offset="0.3125" stop-color="#d4f8ea"/><stop offset="0.3750" stop-color="#eafff6"/><stop offset="0.4375" stop-color="#f8fff9"/><stop offset="0.5000" stop-color="#fffffa"/><stop offset="0.5625" stop-color="#fffcfa"/><stop offset="0.6250" stop-color="#fff5f7"/><stop offset="0.6875" stop-color="#ffe7eb"/><stop offset="0.7500" stop-color="#ffd4dc"/><stop offset="0.8125" stop-color="#ffc2cd"/><stop offset="0.8750" stop-color="#fdb5c4"/><stop offset="0.9375" stop-color="#ffafc2"/><stop offset="1.0000" stop-color="#ffabc3"/></linearGradient><linearGradient id="g57"><stop offset="0.0000" stop-color="#69d9c1"/><stop offset="0.0625" stop-color="#79d7c1"/><stop offset="0.1250" stop-color="#89d7c3"/><stop offset="0.1875" stop-color="#9fdfcd"/><stop offset="0.2500" stop-color="#baebdc"/><stop offset="0.3125" stop-color="#d4f9ec"/><stop offset="0.3750" stop-color="#eafff7"/><stop offset="0.4375" stop-color="#f7fffb"/><stop offset="0.5000" stop-color="#fffffb"/><stop offset="0.5625" stop-color="#fffcfb"/><stop offset="0.6250" stop-color="#fff6f8"/><stop offset="0.6875" stop-color="#ffe7ed"/><stop offset="0.7500" stop-color="#ffd4dd"/><stop offset="0.8125" stop-color="#ffc2cf"/><stop offset="0.8750" stop-color="#fdb5c5"/><stop offset="0.9375" stop-color="#ffafc4"/><stop offset="1.0000" stop-color="#ffabc4"/></linearGradient><linearGradient id="g58"><stop offset="0.0000" stop-color="#68d9c2"/><stop offset="0.0625" stop-color="#78d7c2"/><stop offset="0.1250" stop-color="#88d7c4"/><stop offset="0.1875" stop-color="#9fdfce"/><stop offset="0.2500" stop-color="#b9ecdd"/><stop offset="0.3125" stop-color="#d4f9ed"/><stop offset="0.3750" stop-color="#e9fff9"/><stop offset="0.4375" stop-color="#f7fffc"/><stop offset="0.5000" stop-color="#fffffc"/><stop offset="0.5625" stop-color="#fffcfc"/><stop offset="0.6250" stop-color="#fff6f9"/><stop offset="0.6875" stop-color="#ffe7ee"/><stop offset="0.7500" stop-color="#ffd5df"/><stop offset="0.8125" stop-color="#ffc2d0"/><stop offset="0.8750" stop-color="#fcb5c6"/><stop offset="0.9375" stop-color="#ffafc5"/><stop offset="1.0000" stop-color="#ffabc5"/></linearGradient><linearGradient id="g59"><stop offset="0.0000" stop-color="#67d9c3"/><stop offset="0.0625" stop-color="#77d7c4"/><stop offset="0.1250" stop-color="#87d7c5"/><stop offset="0.1875" stop-color="#9edfd0"/><stop offset="0.2500" stop-color="#b9ecdf"/><stop offset="0.3125" stop-color="#d3f9ef"/><stop offset="0.3750" stop-color="#e9fffa"/><stop offset="0.4375" stop-color="#f6fffd"/><stop offset="0.5000" stop-color="#fffffd"/><stop offset="0.5625" stop-color="#fffcfd"/><stop offset="0.6250" stop-color="#fff6fb"/><stop offset="0.6875" stop-color="#ffe8f0"/><stop offset="0.7500" stop-color="#ffd5e0"/><stop offset="0.8125" stop-color="#fec2d1"/><stop offset="0.8750" stop-color="#fcb5c7"/><stop offset="0.9375" stop-color="#ffafc6"/><stop offset="1.0000" stop-color="#ffabc6"/></linearGradient><linearGradient id="g60"><stop offset="0.0000" stop-color="#66d9c5"/><stop offset="0.0625" stop-color="#76d7c5"/><stop offset="0.1250" stop-color="#86d7c7"/><stop offset="0.1875" stop-color="#9ddfd1"/><stop offset="0.2500" stop-color="#b8ece0"/><stop offset="0.3125" stop-color="#d2f9f0"/><stop offset="0.3750" stop-color="#e8fffb"/><stop offset="0.4375" stop-color="#f5fffe"/><stop offset="0.5000" stop-color="#fffffe"/><stop offset="0.5625" stop-color="#fffcff"/><stop offset="0.6250" stop-color="#fff6fc"/><stop offset="0.6875" stop-color="#ffe8f1"/><stop offset="0.7500" stop-color="#ffd5e1"/><stop offset="0.8125" stop-color="#fec2d2"/><stop offset="0.8750" stop-color="#fbb5c9"/><stop offset="0.9375" stop-color="#ffafc7"/><stop offset="1.0000" stop-color="#ffacc7"/></linearGradient><linearGradient id="g61"><stop offset="0.0000" stop-color="#65d9c6"/><stop offset="0.0625" stop-color="#75d7c6"/><stop offset="0.1250" stop-color="#86d7c8"/><stop offset="0.1875" stop-color="#9cdfd2"/><stop offset="0.2500" stop-color="#b7ece1"/><stop offset="0.3125" stop-color="#d2f9f1"/><stop offset="0.3750" stop-color="#e8fffd"/><stop offset="0.4375" stop-color="#f5ffff"/><stop offset="0.5000" stop-color="#ffffff"/><stop offset="0.5625" stop-color="#fffcff"/><stop offset="0.6250" stop-color="#fff6fd"/><stop offset="0.6875" stop-color="#ffe8f2"/><stop offset="0.7500" stop-color="#ffd5e3"/><stop offset="0.8125" stop-color="#fec2d4"/><stop offset="0.8750" stop-color="#fbb5ca"/><stop offset="0.9375" stop-color="#ffb0c8"/><stop offset="1.0000" stop-color="#ffacc8"/></linearGradient><linearGradient id="g62"><stop offset="0.0000" stop-color="#63dac7"/><stop offset="0.0625" stop-color="#74d7c7"/><stop offset="0.1250" stop-color="#85d7c9"/><stop offset="0.1875" stop-color="#9cdfd3"/><stop offset="0.2500" stop-color="#b6ece2"/><stop offset="0.3125" stop-color="#d1f9f2"/><stop offset="0.3750" stop-color="#e7fffe"/><stop offset="0.4375" stop-color="#f4ffff"/><stop offset="0.5000" stop-color="#feffff"/><stop offset="0.5625" stop-color="#fffcff"/><stop offset="0.6250" stop-color="#fff6fe"/><stop offset="0.6875" stop-color="#ffe8f3"/><stop offset="0.7500" stop-color="#ffd5e4"/><stop offset="0.8125" stop-color="#fdc2d5"/><stop offset="0.8750" stop-color="#fbb5cb"/><stop offset="0.9375" stop-color="#ffb0c9"/><stop offset="1.0000" stop-color="#ffacc9"/></linearGradient><linearGradient id="g63"><stop offset="0.0000" stop-color="#62dac8"/><stop offset="0.0625" stop-color="#73d7c8"/><stop offset="0.1250" stop-color="#84d7ca"/><stop offset="0.1875" stop-color="#9bdfd4"/><stop offset="0.2500" stop-color="#b6ece3"/><stop offset="0.3125" stop-color="#d0f9f3"/><stop offset="0.3750" stop-color="#e6ffff"/><stop offset="0.4375" stop-color="#f4ffff"/><stop offset="0.5000" stop-color="#feffff"/><stop offset="0.5625" stop-color="#fffcff"/><stop offset="0.6250" stop-color="#fff6ff"/><stop offset="0.6875" stop-color="#ffe8f4"/><stop offset="0.7500" stop-color="#ffd5e5"/><stop offset="0.8125" stop-color="#fdc2d6"/><stop offset="0.8750" stop-color="#fab5cc"/><stop offset="0.9375" stop-color="#ffb0ca"/><stop offset="1.0000" stop-color="#ffaccb"/></linearGradient><linearGradient id="g64"><stop offset="0.0000" stop-color="#61dac9"/><stop offset="0.0625" stop-color="#72d8c9"/><stop offset="0.1250" stop-color="#83d7cb"/><stop offset="0.1875" stop-color="#9adfd5"/><stop offset="0.2500" stop-color="#b5ece4"/><stop offset="0.3125" stop-color="#cff9f4"/><stop offset="0.3750" stop-color="#e5ffff"/><stop offset="0.4375" stop-color="#f3ffff"/><stop offset="0.5000" stop-color="#fdffff"/><stop offset="0.5625" stop-color="#fffcff"/><stop offset="0.6250" stop-color="#fff6ff"/><stop offset="0.6875" stop-color="#ffe7f5"/><stop offset="0.7500" stop-color="#ffd5e6"/><stop offset="0.8125" stop-color="#fcc2d7"/><stop offset="0.8750" stop-color="#fab5cd"/><stop offset="0.9375" stop-color="#ffb0cb"/><stop offset="1.0000" stop-color="#ffaccc"/></linearGradient><linearGradient id="g65"><stop offset="0.0000" stop-color="#5fdaca"/><stop offset="0.0625" stop-color="#71d8ca"/><stop offset="0.1250" stop-color="#82d7cc"/><stop offset="0.1875" stop-color="#99dfd6"/><stop offset="0.2500" stop-color="#b4ebe5"/><stop offset="0.3125" stop-color="#cef9f5"/><stop offset="0.3750" stop-color="#e4ffff"/><stop offset="0.4375" stop-color="#f2ffff"/><stop offset="0.5000" stop-color="#fcffff"/><stop offset="0.5625" stop-color="#fffcff"/><stop offset="0.6250" stop-color="#fff6ff"/><stop offset="0.6875" stop-color="#ffe7f6"/><stop offset="0.7500" stop-color="#ffd4e6"/><stop offset="0.8125" stop-color="#fbc2d8"/><stop offset="0.8750" stop-color="#f9b5ce"/><stop offset="0.9375" stop-color="#ffb0cd"/><stop offset="1.0000" stop-color="#ffaccd"/></linearGradient><linearGradient id="g66"><stop offset="0.0000" stop-color="#5edacb"/><stop offset="0.0625" stop-color="#70d8cc"/><stop offset="0.1250" stop-color="#81d7cd"/><stop offset="0.1875" stop-color="#98dfd7"/><stop offset="0.2500" stop-color="#b2ebe6"/><stop offset="0.3125" stop-color="#cdf8f6"/><stop offset="0.3750" stop-color="#e3ffff"/><stop offset="0.4375" stop-color="#f2ffff"/><stop offset="0.5000" stop-color="#fcffff"/><stop offset="0.5625" stop-color="#fffcff"/><stop offset="0.6250" stop-color="#fff5ff"/><stop offset="0.6875" stop-color="#ffe7f7"/><stop offset="0.7500" stop-color="#ffd4e7"/><stop offset="0.8125" stop-color="#fbc2d9"/><stop offset="0.8750" stop-color="#f9b5cf"/><stop offset="0.9375" stop-color="#ffb0ce"/><stop offset="1.0000" stop-color="#ffacce"/></linearGradient><linearGradient id="g67"><stop offset="0.0000" stop-color="#5cdacd"/><stop offset="0.0625" stop-color="#6fd8cd"/><stop offset="0.1250" stop-color="#7fd7ce"/><stop offset="0.1875" stop-color="#97ded8"/><stop offset="0.2500" stop-color="#b1ebe7"/><stop offset="0.3125" stop-color="#ccf8f6"/><stop offset="0.3750" stop-color="#e2ffff"/><stop offset="0.4375" stop-color="#f1ffff"/><stop offset="0.5000" stop-color="#fbffff"/><stop offset="0.5625" stop-color="#fffcff"/><stop offset="0.6250" stop-color="#fff5ff"/><stop offset="0.6875" stop-color="#ffe6f7"/><stop offset="0.7500" stop-color="#ffd4e8"/><stop offset="0.8125" stop-color="#fac2d9"/><stop offset="0.8750" stop-color="#f8b5d0"/><stop offset="0.9375" stop-color="#ffb0cf"/><stop offset="1.0000" stop-color="#ffaccf"/></linearGradient><linearGradient id="g68"><stop offset="0.0000" stop-color="#5bdace"/><stop offset="0.0625" stop-color="#6dd8ce"/><stop offset="0.1250" stop-color="#7ed7cf"/><stop offset="0.1875" stop-color="#95ded9"/><stop offset="0.2500" stop-color="#b0eae8"/><stop offset="0.3125" stop-color="#cbf7f7"/><stop offset="0.3750" stop-color="#e1ffff"/><stop offset="0.4375" stop-color="#f0ffff"/><stop offset="0.5000" stop-color="#fbffff"/><stop offset="0.5625" stop-color="#fffcff"/><stop offset="0.6250" stop-color="#fff5ff"/><stop offset="0.6875" stop-color="#ffe6f8"/><stop offset="0.7500" stop-color="#ffd3e9"/><stop offset="0.8125" stop-color="#f9c2da"/><stop offset="0.8750" stop-color="#f8b5d1"/><stop offset="0.9375" stop-color="#feb0d0"/><stop offset="1.0000" stop-color="#ffacd0"/></linearGradient><linearGradient id="g69"><stop offset="0.0000" stop-color="#59dacf"/><stop offset="0.0625" stop-color="#6cd8cf"/><stop offset="0.1250" stop-color="#7dd7d0"/><stop offset="0.1875" stop-color="#94deda"/><stop offset="0.2500" stop-color="#afeae8"/><stop offset="0.3125" stop-color="#c9f7f8"/><stop offset="0.3750" stop-color="#e0ffff"/><stop offset="0.4375" stop-color="#f0ffff"/><stop offset="0.5000" stop-color="#faffff"/><stop offset="0.5625" stop-color="#fffcff"/><stop offset="0.6250" stop-color="#fff4ff"/><stop offset="0.6875" stop-color="#ffe5f9"/><stop offset="0.7500" stop-color="#ffd3e9"/><stop offset="0.8125" stop-color="#f8c1db"/><stop offset="0.8750" stop-color="#f7b5d2"/><stop offset="0.9375" stop-color="#feb0d1"/><stop offset="1.0000" stop-color="#ffacd1"/></linearGradient><linearGradient id="g70"><stop offset="0.0000" stop-color="#58dad0"/><stop offset="0.0625" stop-color="#6bd8d0"/><stop offset="0.1250" stop-color="#7cd7d1"/><stop offset="0.1875" stop-color="#93ddda"/><stop offset="0.2500" stop-color="#ade9e9"/><stop offset="0.3125" stop-color="#c8f6f8"/><stop offset="0.3750" stop-color="#dfffff"/><stop offset="0.4375" stop-color="#efffff"/><stop offset="0.5000" stop-color="#f9ffff"/><stop offset="0.5625" stop-color="#fffcff"/><stop offset="0.6250" stop-color="#fff3ff"/><stop offset="0.6875" stop-color="#ffe5f9"/><stop offset="0.7500" stop-color="#fed2ea"/><stop offset="0.8125" stop-color="#f8c1dc"/><stop offset="0.8750" stop-color="#f7b5d3"/><stop offset="0.9375" stop-color="#fdb0d2"/><stop offset="1.0000" stop-color="#ffacd2"/></linearGradient><linearGradient id="g71"><stop offset="0.0000" stop-color="#56dad1"/><stop offset="0.0625" stop-color="#6ad8d1"/><stop offset="0.1250" stop-color="#7bd7d2"/><stop offset="0.1875" stop-color="#91dddb"/><stop offset="0.2500" stop-color="#ace9e9"/><stop offset="0.3125" stop-color="#c6f5f8"/><stop offset="0.3750" stop-color="#ddfeff"/><stop offset="0.4375" stop-color="#eeffff"/><stop offset="0.5000" stop-color="#f9ffff"/><stop offset="0.5625" stop-color="#fffcff"/><stop offset="0.6250" stop-color="#fff3ff"/><stop offset="0.6875" stop-color="#ffe4f9"/><stop offset="0.7500" stop-color="#fcd2ea"/><stop offset="0.8125" stop-color="#f7c1dd"/><stop offset="0.8750" stop-color="#f6b5d4"/><stop offset="0.9375" stop-color="#fdb0d3"/><stop offset="1.0000" stop-color="#ffacd4"/></linearGradient><linearGradient id="g72"><stop offset="0.0000" stop-color="#54dad2"/><stop offset="0.0625" stop-color="#68d8d3"/><stop offset="0.1250" stop-color="#7ad7d3"/><stop offset="0.1875" stop-color="#90dddc"/><stop offset="0.2500" stop-color="#aae8ea"/><stop offset="0.3125" stop-color="#c5f4f9"/><stop offset="0.3750" stop-color="#dcfeff"/><stop offset="0.4375" stop-color="#ecffff"/><stop offset="0.5000" stop-color="#f8ffff"/><stop offset="0.5625" stop-color="#fffbff"/><stop offset="0.6250" stop-color="#fff2ff"/><stop offset="0.6875" stop-color="#ffe3fa"/><stop offset="0.7500" stop-color="#fbd1eb"/><stop offset="0.8125" stop-color="#f6c0dd"/><stop offset="0.8750" stop-color="#f5b5d5"/><stop offset="0.9375" stop-color="#fdb0d5"/><stop offset="1.0000" stop-color="#ffacd5"/></linearGradient><linearGradient id="g73"><stop offset="0.0000" stop-color="#52dad4"/><stop offset="0.0625" stop-color="#67d8d4"/><stop offset="0.1250" stop-color="#78d6d4"/><stop offset="0.1875" stop-color="#8fdcdd"/><stop offset="0.2500" stop-color="#a9e7ea"/><stop offset="0.3125" stop-color="#c3f3f9"/><stop offset="0.3750" stop-color="#dafdff"/><stop offset="0.4375" stop-color="#ebffff"/><stop offset="0.5000" stop-color="#f7ffff"/><stop offset="0.5625" stop-color="#fffaff"/><stop offset="0.6250" stop-color="#fff1ff"/><stop offset="0.6875" stop-color="#ffe2fa"/><stop offset="0.7500" stop-color="#fad0eb"/><stop offset="0.8125" stop-color="#f5c0de"/><stop offset="0.8750" stop-color="#f5b5d6"/><stop offset="0.9375" stop-color="#fcb0d6"/><stop offset="1.0000" stop-color="#ffacd6"/></linearGradient><linearGradient id="g74"><stop offset="0.0000" stop-color="#51dad5"/><stop offset="0.0625" stop-color="#65d8d5"/><stop offset="0.1250" stop-color="#77d6d5"/><stop offset="0.1875" stop-color="#8ddcdd"/><stop offset="0.2500" stop-color="#a7e6ea"/><stop offset="0.3125" stop-color="#c1f2f9"/><stop offset="0.3750" stop-color="#d8fcff"/><stop offset="0.4375" stop-color="#e9ffff"/><stop offset="0.5000" stop-color="#f6feff"/><stop offset="0.5625" stop-color="#fefaff"/><stop offset="0.6250" stop-color="#fff0ff"/><stop offset="0.6875" stop-color="#fee1fa"/><stop offset="0.7500" stop-color="#f9d0ec"/><stop offset="0.8125" stop-color="#f4bfdf"/><stop offset="0.8750" stop-color="#f4b4d7"/><stop offset="0.9375" stop-color="#fcb0d7"/><stop offset="1.0000" stop-color="#ffacd7"/></linearGradient><linearGradient id="g75"><stop offset="0.0000" stop-color="#4fdad6"/><stop offset="0.0625" stop-color="#64d8d6"/><stop offset="0.1250" stop-color="#76d6d7"/><stop offset="0.1875" stop-color="#8cdbde"/><stop offset="0.2500" stop-color="#a5e6eb"/><stop offset="0.3125" stop-color="#bff1f9"/><stop offset="0.3750" stop-color="#d6fbff"/><stop offset="0.4375" stop-color="#e8ffff"/><stop offset="0.5000" stop-color="#f4feff"/><stop offset="0.5625" stop-color="#fcf9ff"/><stop offset="0.6250" stop-color="#ffefff"/><stop offset="0.6875" stop-color="#fde0fa"/><stop offset="0.7500" stop-color="#f7cfec"/><stop offset="0.8125" stop-color="#f3bfdf"/><stop offset="0.8750" stop-color="#f4b4d8"/><stop offset="0.9375" stop-color="#fbb0d8"/><stop offset="1.0000" stop-color="#ffacd8"/></linearGradient><linearGradient id="g76"><stop offset="0.0000" stop-color="#4ddad7"/><stop offset="0.0625" stop-color="#63d8d7"/><stop offset="0.1250" stop-color="#74d6d8"/><stop offset="0.1875" stop-color="#8adbde"/><stop offset="0.2500" stop-color="#a4e5eb"/><stop offset="0.3125" stop-color="#bdf0f9"/><stop offset="0.3750" stop-color="#d4f9ff"/><stop offset="0.4375" stop-color="#e6feff"/><stop offset="0.5000" stop-color="#f3fdff"/><stop offset="0.5625" stop-color="#fbf8ff"/><stop offset="0.6250" stop-color="#fdeeff"/><stop offset="0.6875" stop-color="#fbdffa"/><stop offset="0.7500" stop-color="#f6ceec"/><stop offset="0.8125" stop-color="#f2bee0"/><stop offset="0.8750" stop-color="#f3b4d9"/><stop offset="0.9375" stop-color="#fbb0d9"/><stop offset="1.0000" stop-color="#ffacd9"/></linearGradient><linearGradient id="g77"><stop offset="0.0000" stop-color="#4bdad8"/><stop offset="0.0625" stop-color="#61d8d8"/><stop offset="0.1250" stop-color="#73d6d9"/><stop offset="0.1875" stop-color="#89dadf"/><stop offset="0.2500" stop-color="#a2e4eb"/><stop offset="0.3125" stop-color="#bbeff9"/><stop offset="0.3750" stop-color="#d2f8ff"/><stop offset="0.4375" stop-color="#e4fcff"/><stop offset="0.5000" stop-color="#f1fcff"/><stop offset="0.5625" stop-color="#f9f7ff"/><stop offset="0.6250" stop-color="#fbedff"/><stop offset="0.6875" stop-color="#f9defa"/><stop offset="0.7500" stop-color="#f4cdec"/><stop offset="0.8125" stop-color="#f1bee0"/><stop offset="0.8750" stop-color="#f2b4da"/><stop offset="0.9375" stop-color="#fab0da"/><stop offset="1.0000" stop-color="#ffadda"/></linearGradient><linearGradient id="g78"><stop offset="0.0000" stop-color="#49dad9"/><stop offset="0.0625" stop-color="#60d8d9"/><stop offset="0.1250" stop-color="#72d6da"/><stop offset="0.1875" stop-color="#87dae0"/><stop offset="0.2500" stop-color="#a0e3eb"/><stop offset="0.3125" stop-color="#b9eef9"/><stop offset="0.3750" stop-color="#d0f7ff"/><stop offset="0.4375" stop-color="#e2fbff"/><stop offset="0.5000" stop-color="#effbff"/><stop offset="0.5625" stop-color="#f7f5ff"/><stop offset="0.6250" stop-color="#f9ebff"/><stop offset="0.6875" stop-color="#f7ddfa"/><stop offset="0.7500" stop-color="#f3cced"/><stop offset="0.8125" stop-color="#f0bde1"/><stop offset="0.8750" stop-color="#f2b4db"/><stop offset="0.9375" stop-color="#fab0db"/><stop offset="1.0000" stop-color="#ffaddc"/></linearGradient><linearGradient id="g79"><stop offset="0.0000" stop-color="#46dada"/><stop offset="0.0625" stop-color="#5ed8db"/><stop offset="0.1250" stop-color="#70d6db"/><stop offset="0.1875" stop-color="#85d9e0"/><stop offset="0.2500" stop-color="#9ee2ec"/><stop offset="0.3125" stop-color="#b7edf9"/><stop offset="0.3750" stop-color="#cef5ff"/><stop offset="0.4375" stop-color="#e0faff"/><stop offset="0.5000" stop-color="#edf9ff"/><stop offset="0.5625" stop-color="#f5f4ff"/><stop offset="0.6250" stop-color="#f7eaff"/><stop offset="0.6875" stop-color="#f5dbfa"/><stop offset="0.7500" stop-color="#f1cbed"/><stop offset="0.8125" stop-color="#eebde2"/><stop offset="0.8750" stop-color="#f1b4dc"/><stop offset="0.9375" stop-color="#f9b1dd"/><stop offset="1.0000" stop-color="#ffaddd"/></linearGradient><linearGradient id="g80"><stop offset="0.0000" stop-color="#44dadc"/><stop offset="0.0625" stop-color="#5cd8dc"/><stop offset="0.1250" stop-color="#6fd6dc"/><stop offset="0.1875" stop-color="#84d9e1"/><stop offset="0.2500" stop-color="#9ce1ec"/><stop offset="0.3125" stop-color="#b5ebf9"/><stop offset="0.3750" stop-color="#ccf4ff"/><stop offset="0.4375" stop-color="#def8ff"/><stop offset="0.5000" stop-color="#ebf8ff"/><stop offset="0.5625" stop-color="#f3f2ff"/><stop offset="0.6250" stop-color="#f5e8ff"/><stop offset="0.6875" stop-color="#f3dafa"/><stop offset="0.7500" stop-color="#f0caed"/><stop offset="0.8125" stop-color="#edbce2"/><stop offset="0.8750" stop-color="#f1b4de"/><stop offset="0.9375" stop-color="#f9b1de"/><stop offset="1.0000" stop-color="#ffadde"/></linearGradient><linearGradient id="g81"><stop offset="0.0000" stop-color="#42dadd"/><stop offset="0.0625" stop-color="#5bd8dd"/><stop offset="0.1250" stop-color="#6ed6dd"/><stop offset="0.1875" stop-color="#82d8e1"/><stop offset="0.2500" stop-color="#9ae0ec"/><stop offset="0.3125" stop-color="#b3eaf8"/><stop offset="0.3750" stop-color="#c9f2ff"/><stop offset="0.4375" stop-color="#dbf7ff"/><stop offset="0.5000" stop-color="#e8f6ff"/><stop offset="0.5625" stop-color="#f0f1ff"/><stop offset="0.6250" stop-color="#f3e7ff"/><stop offset="0.6875" stop-color="#f1d9f9"/><stop offset="0.7500" stop-color="#eec9ed"/><stop offset="0.8125" stop-color="#ecbce3"/><stop offset="0.8750" stop-color="#f0b4df"/><stop offset="0.9375" stop-color="#f9b1df"/><stop offset="1.0000" stop-color="#ffaddf"/></linearGradient><linearGradient id="g82"><stop offset="0.0000" stop-color="#3fdade"/><stop offset="0.0625" stop-color="#59d8de"/><stop offset="0.1250" stop-color="#6cd6de"/><stop offset="0.1875" stop-color="#80d8e2"/><stop offset="0.2500" stop-color="#98dfec"/><stop offset="0.3125" stop-color="#b1e9f8"/><stop offset="0.3750" stop-color="#c7f1ff"/><stop offset="0.4375" stop-color="#d9f5ff"/><stop offset="0.5000" stop-color="#e6f5ff"/><stop offset="0.5625" stop-color="#eeefff"/><stop offset="0.6250" stop-color="#f1e5ff"/><stop offset="0.6875" stop-color="#efd7f9"/><stop offset="0.7500" stop-color="#ecc8ed"/><stop offset="0.8125" stop-color="#ebbce3"/><stop offset="0.8750" stop-color="#f0b4e0"/><stop offset="0.9375" stop-color="#f8b1e0"/><stop offset="1.0000" stop-color="#ffade0"/></linearGradient><linearGradient id="g83"><stop offset="0.0000" stop-color="#3ddadf"/><stop offset="0.0625" stop-color="#57d8df"/><stop offset="0.1250" stop-color="#6bd6df"/><stop offset="0.1875" stop-color="#7fd7e3"/><stop offset="0.2500" stop-color="#96deec"/><stop offset="0.3125" stop-color="#aee7f8"/><stop offset="0.3750" stop-color="#c4efff"/><stop offset="0.4375" stop-color="#d6f3ff"/><stop offset="0.5000" stop-color="#e4f3ff"/><stop offset="0.5625" stop-color="#ebedff"/><stop offset="0.6250" stop-color="#eee3ff"/><stop offset="0.6875" stop-color="#edd6f9"/><stop offset="0.7500" stop-color="#ebc7ed"/><stop offset="0.8125" stop-color="#eabbe4"/><stop offset="0.8750" stop-color="#efb4e1"/><stop offset="0.9375" stop-color="#f8b1e1"/><stop offset="1.0000" stop-color="#ffade1"/></linearGradient><linearGradient id="g84"><stop offset="0.0000" stop-color="#3adae0"/><stop offset="0.0625" stop-color="#55d8e0"/><stop offset="0.1250" stop-color="#6ad6e0"/><stop offset="0.1875" stop-color="#7dd7e3"/><stop offset="0.2500" stop-color="#94ddec"/><stop offset="0.3125" stop-color="#ace6f7"/><stop offset="0.3750" stop-color="#c2edff"/><stop offset="0.4375" stop-color="#d4f1ff"/><stop offset="0.5000" stop-color="#e1f1ff"/><stop offset="0.5625" stop-color="#e9ecff"/><stop offset="0.6250" stop-color="#ece2ff"/><stop offset="0.6875" stop-color="#ebd5f8"/><stop offset="0.7500" stop-color="#e9c6ed"/><stop offset="0.8125" stop-color="#e9bbe5"/><stop offset="0.8750" stop-color="#efb5e2"/><stop offset="0.9375" stop-color="#f7b1e2"/><stop offset="1.0000" stop-color="#ffade2"/></linearGradient><linearGradient id="g85"><stop offset="0.0000" stop-color="#37dbe1"/><stop offset="0.0625" stop-color="#54d8e1"/><stop offset="0.1250" stop-color="#68d6e2"/><stop offset="0.1875" stop-color="#7bd6e4"/><stop offset="0.2500" stop-color="#92dcec"/><stop offset="0.3125" stop-color="#aae4f7"/><stop offset="0.3750" stop-color="#bfebff"/><stop offset="0.4375" stop-color="#d1efff"/><stop offset="0.5000" stop-color="#deefff"/><stop offset="0.5625" stop-color="#e6eaff"/><stop offset="0.6250" stop-color="#eae0ff"/><stop offset="0.6875" stop-color="#e9d3f8"/><stop offset="0.7500" stop-color="#e8c5ed"/><stop offset="0.8125" stop-color="#e8bae5"/><stop offset="0.8750" stop-color="#eeb5e3"/><stop offset="0.9375" stop-color="#f7b1e3"/><stop offset="1.0000" stop-color="#ffade4"/></linearGradient><linearGradient id="g86"><stop offset="0.0000" stop-color="#33dbe3"/><stop offset="0.0625" stop-color="#52d9e3"/><stop offset="0.1250" stop-color="#67d6e3"/><stop offset="0.1875" stop-color="#7ad6e5"/><stop offset="0.2500" stop-color="#90dbec"/><stop offset="0.3125" stop-color="#a7e3f7"/><stop offset="0.3750" stop-color="#bdeaff"/><stop offset="0.4375" stop-color="#ceeeff"/><stop offset="0.5000" stop-color="#dcedff"/><stop offset="0.5625" stop-color="#e4e8ff"/><stop offset="0.6250" stop-color="#e7deff"/><stop offset="0.6875" stop-color="#e7d2f8"/><stop offset="0.7500" stop-color="#e6c5ed"/><stop offset="0.8125" stop-color="#e7bae6"/><stop offset="0.8750" stop-color="#eeb5e4"/><stop offset="0.9375" stop-color="#f6b1e5"/><stop offset="1.0000" stop-color="#feade5"/></linearGradient><linearGradient id="g87"><stop offset="0.0000" stop-color="#30dbe4"/><stop offset="0.0625" stop-color="#50d9e4"/><stop offset="0.1250" stop-color="#65d6e4"/><stop offset="0.1875" stop-color="#78d5e5"/><stop offset="0.2500" stop-color="#8edaec"/><stop offset="0.3125" stop-color="#a5e1f6"/><stop offset="0.3750" stop-color="#bae8ff"/><stop offset="0.4375" stop-color="#ccecff"/><stop offset="0.5000" stop-color="#d9ebff"/><stop offset="0.5625" stop-color="#e1e6ff"/><stop offset="0.6250" stop-color="#e5ddff"/><stop offset="0.6875" stop-color="#e5d0f7"/><stop offset="0.7500" stop-color="#e4c4ed"/><stop offset="0.8125" stop-color="#e6b9e7"/><stop offset="0.8750" stop-color="#edb5e6"/><stop offset="0.9375" stop-color="#f6b1e6"/><stop offset="1.0000" stop-color="#feade6"/></linearGradient><linearGradient id="g88"><stop offset="0.0000" stop-color="#2cdbe5"/><stop offset="0.0625" stop-color="#4ed9e5"/><stop offset="0.1250" stop-color="#64d6e5"/><stop offset="0.1875" stop-color="#76d5e6"/><stop offset="0.2500" stop-color="#8cd9ed"/><stop offset="0.3125" stop-color="#a2e0f6"/><stop offset="0.3750" stop-color="#b7e6ff"/><stop offset="0.4375" stop-color="#c9eaff"/><stop offset="0.5000" stop-color="#d6e9ff"/><stop offset="0.5625" stop-color="#dee4ff"/><stop offset="0.6250" stop-color="#e2dbff"/><stop offset="0.6875" stop-color="#e3cff7"/><stop offset="0.7500" stop-color="#e3c3ee"/><stop offset="0.8125" stop-color="#e5b9e7"/><stop offset="0.8750" stop-color="#edb5e7"/><stop offset="0.9375" stop-color="#f5b1e7"/><stop offset="1.0000" stop-color="#fdade7"/></linearGradient><linearGradient id="g89"><stop offset="0.0000" stop-color="#28dbe6"/><stop offset="0.0625" stop-color="#4bd9e6"/><stop offset="0.1250" stop-color="#62d7e6"/><stop offset="0.1875" stop-color="#75d5e7"/><stop offset="0.2500" stop-color="#8ad8ed"/><stop offset="0.3125" stop-color="#a0def6"/><stop offset="0.3750" stop-color="#b5e4fe"/><stop offset="0.4375" stop-color="#c6e8ff"/><stop offset="0.5000" stop-color="#d3e7ff"/><stop offset="0.5625" stop-color="#dce2ff"/><stop offset="0.6250" stop-color="#e0d9ff"/><stop offset="0.6875" stop-color="#e1cdf6"/><stop offset="0.7500" stop-color="#e1c2ee"/><stop offset="0.8125" stop-color="#e4b9e8"/><stop offset="0.8750" stop-color="#ecb5e8"/><stop offset="0.9375" stop-color="#f5b1e8"/><stop offset="1.0000" stop-color="#fdade8"/></linearGradient><linearGradient id="g90"><stop offset="0.0000" stop-color="#23dbe7"/><stop offset="0.0625" stop-color="#49d9e7"/><stop offset="0.1250" stop-color="#60d7e7"/><stop offset="0.1875" stop-color="#73d5e8"/><stop offset="0.2500" stop-color="#88d7ed"/><stop offset="0.3125" stop-color="#9dddf5"/><stop offset="0.3750" stop-color="#b2e3fe"/><stop offset="0.4375" stop-color="#c3e6ff"/><stop offset="0.5000" stop-color="#d0e5ff"/><stop offset="0.5625" stop-color="#d9e0ff"/><stop offset="0.6250" stop-color="#ddd7fe"/><stop offset="0.6875" stop-color="#dfccf6"/><stop offset="0.7500" stop-color="#e0c1ee"/><stop offset="0.8125" stop-color="#e4b9e9"/><stop offset="0.8750" stop-color="#ecb5e9"/><stop offset="0.9375" stop-color="#f4b1e9"/><stop offset="1.0000" stop-color="#fcade9"/></linearGradient><linearGradient id="g91"><stop offset="0.0000" stop-color="#1ddbe8"/><stop offset="0.0625" stop-color="#47d9e8"/><stop offset="0.1250" stop-color="#5fd7e9"/><stop offset="0.1875" stop-color="#72d5e9"/><stop offset="0.2500" stop-color="#86d6ed"/><stop offset="0.3125" stop-color="#9bdcf5"/><stop offset="0.3750" stop-color="#afe1fd"/><stop offset="0.4375" stop-color="#c0e4ff"/><stop offset="0.5000" stop-color="#cde3ff"/><stop offset="0.5625" stop-color="#d6deff"/><stop offset="0.6250" stop-color="#dbd5fe"/><stop offset="0.6875" stop-color="#ddcbf6"/><stop offset="0.7500" stop-color="#dec0ee"/><stop offset="0.8125" stop-color="#e3b9ea"/><stop offset="0.8750" stop-color="#ebb5ea"/><stop offset="0.9375" stop-color="#f4b1ea"/><stop offset="1.0000" stop-color="#fcadea"/></linearGradient><linearGradient id="g92"><stop offset="0.0000" stop-color="#16dbe9"/><stop offset="0.0625" stop-color="#44d9ea"/><stop offset="0.1250" stop-color="#5dd7ea"/><stop offset="0.1875" stop-color="#70d4ea"/><stop offset="0.2500" stop-color="#84d6ee"/><stop offset="0.3125" stop-color="#99daf5"/><stop offset="0.3750" stop-color="#addffc"/><stop offset="0.4375" stop-color="#bee2ff"/><stop offset="0.5000" stop-color="#cbe1ff"/><stop offset="0.5625" stop-color="#d3dcff"/><stop offset="0.6250" stop-color="#d8d4fd"/><stop offset="0.6875" stop-color="#dac9f6"/><stop offset="0.7500" stop-color="#ddbfef"/><stop offset="0.8125" stop-color="#e2b9eb"/><stop offset="0.8750" stop-color="#ebb5eb"/><stop offset="0.9375" stop-color="#f3b1eb"/><stop offset="1.0000" stop-color="#fbadec"/></linearGradient><linearGradient id="g93"><stop offset="0.0000" stop-color="#0ddbeb"/><stop offset="0.0625" stop-color="#42d9eb"/><stop offset="0.1250" stop-color="#5bd7eb"/><stop offset="0.1875" stop-color="#6fd4eb"/><stop offset="0.2500" stop-color="#82d5ee"/><stop offset="0.3125" stop-color="#96d9f5"/><stop offset="0.3750" stop-color="#aaddfc"/><stop offset="0.4375" stop-color="#bbe0ff"/><stop offset="0.5000" stop-color="#c8dfff"/><stop offset="0.5625" stop-color="#d1daff"/><stop offset="0.6250" stop-color="#d6d2fc"/><stop offset="0.6875" stop-color="#d8c8f5"/><stop offset="0.7500" stop-color="#dbbfef"/><stop offset="0.8125" stop-color="#e2b9ec"/><stop offset="0.8750" stop-color="#eab5ec"/><stop offset="0.9375" stop-color="#f3b1ed"/><stop offset="1.0000" stop-color="#fbaeed"/></linearGradient><linearGradient id="g94"><stop offset="0.0000" stop-color="#00dbec"/><stop offset="0.0625" stop-color="#3fd9ec"/><stop offset="0.1250" stop-color="#59d7ec"/><stop offset="0.1875" stop-color="#6dd5ec"/><stop offset="0.2500" stop-color="#80d4ee"/><stop offset="0.3125" stop-color="#94d8f4"/><stop offset="0.3750" stop-color="#a7dcfb"/><stop offset="0.4375" stop-color="#b8deff"/><stop offset="0.5000" stop-color="#c5ddff"/><stop offset="0.5625" stop-color="#ced8ff"/><stop offset="0.6250" stop-color="#d3d0fc"/><stop offset="0.6875" stop-color="#d7c7f5"/><stop offset="0.7500" stop-color="#dabeef"/><stop offset="0.8125" stop-color="#e1b9ed"/><stop offset="0.8750" stop-color="#eab5ee"/><stop offset="0.9375" stop-color="#f2b1ee"/><stop offset="1.0000" stop-color="#faaeee"/></linearGradient><linearGradient id="g95"><stop offset="0.0000" stop-color="#00dbed"/><stop offset="0.0625" stop-color="#3cd9ed"/><stop offset="0.1250" stop-color="#58d7ed"/><stop offset="0.1875" stop-color="#6cd5ed"/><stop offset="0.2500" stop-color="#7ed4ef"/><stop offset="0.3125" stop-color="#92d7f4"/><stop offset="0.3750" stop-color="#a5dafb"/><stop offset="0.4375" stop-color="#b5dcff"/><stop offset="0.5000" stop-color="#c2dbff"/><stop offset="0.5625" stop-color="#cbd6ff"/><stop offset="0.6250" stop-color="#d1cffb"/><stop offset="0.6875" stop-color="#d5c6f5"/><stop offset="0.7500" stop-color="#d9bef0"/><stop offset="0.8125" stop-color="#e0b9ef"/><stop offset="0.8750" stop-color="#e9b5ef"/><stop offset="0.9375" stop-color="#f2b2ef"/><stop offset="1.0000" stop-color="#faaeef"/></linearGradient><linearGradient id="g96"><stop offset="0.0000" stop-color="#00dbee"/><stop offset="0.0625" stop-color="#39d9ee"/><stop offset="0.1250" stop-color="#56d7ee"/><stop offset="0.1875" stop-color="#6ad5ee"/><stop offset="0.2500" stop-color="#7cd3f0"/><stop offset="0.3125" stop-color="#8fd5f4"/><stop offset="0.3750" stop-color="#a2d8fa"/><stop offset="0.4375" stop-color="#b2daff"/><stop offset="0.5000" stop-color="#bfd9ff"/><stop offset="0.5625" stop-color="#c9d4ff"/><stop offset="0.6250" stop-color="#cfcdfb"/><stop offset="0.6875" stop-color="#d3c5f5"/><stop offset="0.7500" stop-color="#d8bdf1"/><stop offset="0.8125" stop-color="#e0b9f0"/><stop offset="0.8750" stop-color="#e9b5f0"/><stop offset="0.9375" stop-color="#f1b2f0"/><stop offset="1.0000" stop-color="#f9aef0"/></linearGradient><linearGradient id="g97"><stop offset="0.0000" stop-color="#00dbef"/><stop offset="0.0625" stop-color="#36d9ef"/><stop offset="0.1250" stop-color="#54d7ef"/><stop offset="0.1875" stop-color="#69d5f0"/><stop offset="0.2500" stop-color="#7ad3f0"/><stop offset="0.3125" stop-color="#8dd4f4"/><stop offset="0.3750" stop-color="#a0d7fa"/><stop offset="0.4375" stop-color="#b0d8fe"/><stop offset="0.5000" stop-color="#bdd7ff"/><stop offset="0.5625" stop-color="#c6d3fe"/><stop offset="0.6250" stop-color="#ccccfa"/><stop offset="0.6875" stop-color="#d1c4f5"/><stop offset="0.7500" stop-color="#d7bdf1"/><stop offset="0.8125" stop-color="#dfb9f1"/><stop offset="0.8750" stop-color="#e8b5f1"/><stop offset="0.9375" stop-color="#f1b2f1"/><stop offset="1.0000" stop-color="#f9aef1"/></linearGradient><linearGradient id="g98"><stop offset="0.0000" stop-color="#00dbf0"/><stop offset="0.0625" stop-color="#32d9f0"/><stop offset="0.1250" stop-color="#51d7f1"/><stop offset="0.1875" stop-color="#67d5f1"/><stop offset="0.2500" stop-color="#79d3f1"/><stop offset="0.3125" stop-color="#8bd4f5"/><stop offset="0.3750" stop-color="#9dd6f9"/><stop offset="0.4375" stop-color="#add7fd"/><stop offset="0.5000" stop-color="#bad5ff"/><stop offset="0.5625" stop-color="#c3d1fd"/><stop offset="0.6250" stop-color="#cacafa"/><stop offset="0.6875" stop-color="#cfc3f5"/><stop offset="0.7500" stop-color="#d6bdf2"/><stop offset="0.8125" stop-color="#dfb9f2"/><stop offset="0.8750" stop-color="#e7b5f2"/><stop offset="0.9375" stop-color="#f0b2f2"/><stop offset="1.0000" stop-color="#f8aef2"/></linearGradient><linearGradient id="g99"><stop offset="0.0000" stop-color="#00dbf2"/><stop offset="0.0625" stop-color="#2ed9f2"/><stop offset="0.1250" stop-color="#4fd7f2"/><stop offset="0.1875" stop-color="#65d5f2"/><stop offset="0.2500" stop-color="#77d3f2"/><stop offset="0.3125" stop-color="#89d3f5"/><stop offset="0.3750" stop-color="#9bd4f9"/><stop offset="0.4375" stop-color="#aad5fd"/><stop offset="0.5000" stop-color="#b7d3fe"/><stop offset="0.5625" stop-color="#c1cffd"/><stop offset="0.6250" stop-color="#c8c9fa"/><stop offset="0.6875" stop-color="#cec2f6"/><stop offset="0.7500" stop-color="#d5bcf3"/><stop offset="0.8125" stop-color="#deb9f3"/><stop offset="0.8750" stop-color="#e7b5f3"/><stop offset="0.9375" stop-color="#efb2f3"/><stop offset="1.0000" stop-color="#f8aef4"/></linearGradient><linearGradient id="g100"><stop offset="0.0000" stop-color="#00dbf3"/><stop offset="0.0625" stop-color="#2ad9f3"/><stop offset="0.1250" stop-color="#4dd7f3"/><stop offset="0.1875" stop-color="#64d5f3"/><stop offset="0.2500" stop-color="#76d3f3"/><stop offset="0.3125" stop-color="#87d2f5"/><stop offset="0.3750" stop-color="#98d3f9"/><stop offset="0.4375" stop-color="#a8d3fc"/><stop offset="0.5000" stop-color="#b5d2fd"/><stop offset="0.5625" stop-color="#bfcefc"/><stop offset="0.6250" stop-color="#c6c8f9"/><stop offset="0.6875" stop-color="#ccc1f6"/><stop offset="0.7500" stop-color="#d4bcf4"/><stop offset="0.8125" stop-color="#ddb9f4"/><stop offset="0.8750" stop-color="#e6b6f4"/><stop offset="0.9375" stop-color="#efb2f5"/><stop offset="1.0000" stop-color="#f7aef5"/></linearGradient><linearGradient id="g101"><stop offset="0.0000" stop-color="#00dbf4"/><stop offset="0.0625" stop-color="#25d9f4"/><stop offset="0.1250" stop-color="#4bd7f4"/><stop offset="0.1875" stop-color="#62d5f4"/><stop offset="0.2500" stop-color="#74d3f4"/><stop offset="0.3125" stop-color="#85d1f6"/><stop offset="0.3750" stop-color="#96d2f9"/><stop offset="0.4375" stop-color="#a6d2fc"/><stop offset="0.5000" stop-color="#b2d0fd"/><stop offset="0.5625" stop-color="#bcccfc"/><stop offset="0.6250" stop-color="#c4c7f9"/><stop offset="0.6875" stop-color="#cbc1f6"/><stop offset="0.7500" stop-color="#d4bcf5"/><stop offset="0.8125" stop-color="#ddb9f5"/><stop offset="0.8750" stop-color="#e6b6f6"/><stop offset="0.9375" stop-color="#eeb2f6"/><stop offset="1.0000" stop-color="#f7aef6"/></linearGradient><linearGradient id="g102"><stop offset="0.0000" stop-color="#00dbf5"/><stop offset="0.0625" stop-color="#1fd9f5"/><stop offset="0.1250" stop-color="#48d7f5"/><stop offset="0.1875" stop-color="#60d5f5"/><stop offset="0.2500" stop-color="#73d3f5"/><stop offset="0.3125" stop-color="#84d1f6"/><stop offset="0.3750" stop-color="#94d1f9"/><stop offset="0.4375" stop-color="#a3d1fc"/><stop offset="0.5000" stop-color="#b0cffd"/><stop offset="0.5625" stop-color="#bacbfc"/><stop offset="0.6250" stop-color="#c2c6f9"/><stop offset="0.6875" stop-color="#cac0f7"/><stop offset="0.7500" stop-color="#d3bcf6"/><stop offset="0.8125" stop-color="#dcb9f7"/><stop offset="0.8750" stop-color="#e5b6f7"/><stop offset="0.9375" stop-color="#eeb2f7"/><stop offset="1.0000" stop-color="#f6aef7"/></linearGradient><linearGradient id="g103"><stop offset="0.0000" stop-color="#00dbf6"/><stop offset="0.0625" stop-color="#18d9f6"/><stop offset="0.1250" stop-color="#45d7f6"/><stop offset="0.1875" stop-color="#5ed5f6"/><stop offset="0.2500" stop-color="#71d3f7"/><stop offset="0.3125" stop-color="#82d1f7"/><stop offset="0.3750" stop-color="#92d0f9"/><stop offset="0.4375" stop-color="#a1d0fb"/><stop offset="0.5000" stop-color="#aecefc"/><stop offset="0.5625" stop-color="#b8cafc"/><stop offset="0.6250" stop-color="#c1c5fa"/><stop offset="0.6875" stop-color="#c9c0f8"/><stop offset="0.7500" stop-color="#d2bdf8"/><stop offset="0.8125" stop-color="#dbb9f8"/><stop offset="0.8750" stop-color="#e4b6f8"/><stop offset="0.9375" stop-color="#edb2f8"/><stop offset="1.0000" stop-color="#f6aef8"/></linearGradient><linearGradient id="g104"><stop offset="0.0000" stop-color="#00dbf7"/><stop offset="0.0625" stop-color="#0ed9f7"/><stop offset="0.1250" stop-color="#43d7f8"/><stop offset="0.1875" stop-color="#5cd5f8"/><stop offset="0.2500" stop-color="#70d3f8"/><stop offset="0.3125" stop-color="#80d0f8"/><stop offset="0.3750" stop-color="#90cffa"/><stop offset="0.4375" stop-color="#9fcffb"/><stop offset="0.5000" stop-color="#accdfc"/><stop offset="0.5625" stop-color="#b6c9fc"/><stop offset="0.6250" stop-color="#bfc4fa"/><stop offset="0.6875" stop-color="#c8c0f9"/><stop offset="0.7500" stop-color="#d1bdf9"/><stop offset="0.8125" stop-color="#dbb9f9"/><stop offset="0.8750" stop-color="#e4b6f9"/><stop offset="0.9375" stop-color="#edb2f9"/><stop offset="1.0000" stop-color="#f5aef9"/></linearGradient><linearGradient id="g105"><stop offset="0.0000" stop-color="#00dcf8"/><stop offset="0.0625" stop-color="#00d9f9"/><stop offset="0.1250" stop-color="#40d7f9"/><stop offset="0.1875" stop-color="#5bd5f9"/><stop offset="0.2500" stop-color="#6ed3f9"/><stop offset="0.3125" stop-color="#7fd0f9"/><stop offset="0.3750" stop-color="#8fcffa"/><stop offset="0.4375" stop-color="#9dcefc"/><stop offset="0.5000" stop-color="#aaccfc"/><stop offset="0.5625" stop-color="#b4c8fc"/><stop offset="0.6250" stop-color="#bec4fa"/><stop offset="0.6875" stop-color="#c7c0fa"/><stop offset="0.7500" stop-color="#d1bdfa"/><stop offset="0.8125" stop-color="#dab9fa"/><stop offset="0.8750" stop-color="#e3b6fa"/><stop offset="0.9375" stop-color="#ecb2fa"/><stop offset="1.0000" stop-color="#f5aefa"/></linearGradient><linearGradient id="g106"><stop offset="0.0000" stop-color="#00dcfa"/><stop offset="0.0625" stop-color="#00dafa"/><stop offset="0.1250" stop-color="#3dd7fa"/><stop offset="0.1875" stop-color="#58d5fa"/><stop offset="0.2500" stop-color="#6dd3fa"/><stop offset="0.3125" stop-color="#7ed0fa"/><stop offset="0.3750" stop-color="#8dcefb"/><stop offset="0.4375" stop-color="#9bcdfc"/><stop offset="0.5000" stop-color="#a8cbfd"/><stop offset="0.5625" stop-color="#b3c7fc"/><stop offset="0.6250" stop-color="#bdc3fb"/><stop offset="0.6875" stop-color="#c6c0fb"/><stop offset="0.7500" stop-color="#d0bdfb"/><stop offset="0.8125" stop-color="#dab9fb"/><stop offset="0.8750" stop-color="#e3b6fb"/><stop offset="0.9375" stop-color="#ebb2fb"/><stop offset="1.0000" stop-color="#f4aefc"/></linearGradient><linearGradient id="g107"><stop offset="0.0000" stop-color="#00dcfb"/><stop offset="0.0625" stop-color="#00dafb"/><stop offset="0.1250" stop-color="#39d7fb"/><stop offset="0.1875" stop-color="#56d5fb"/><stop offset="0.2500" stop-color="#6bd3fb"/><stop offset="0.3125" stop-color="#7cd1fb"/><stop offset="0.3750" stop-color="#8bcefc"/><stop offset="0.4375" stop-color="#9accfc"/><stop offset="0.5000" stop-color="#a6cafd"/><stop offset="0.5625" stop-color="#b1c7fd"/><stop offset="0.6250" stop-color="#bbc3fc"/><stop offset="0.6875" stop-color="#c6c0fc"/><stop offset="0.7500" stop-color="#cfbdfc"/><stop offset="0.8125" stop-color="#d9b9fc"/><stop offset="0.8750" stop-color="#e2b6fc"/><stop offset="0.9375" stop-color="#ebb2fd"/><stop offset="1.0000" stop-color="#f3affd"/></linearGradient><linearGradient id="g108"><stop offset="0.0000" stop-color="#00dcfc"/><stop offset="0.0625" stop-color="#00dafc"/><stop offset="0.1250" stop-color="#36d8fc"/><stop offset="0.1875" stop-color="#54d5fc"/><stop offset="0.2500" stop-color="#6ad3fc"/><stop offset="0.3125" stop-color="#7bd1fc"/><stop offset="0.3750" stop-color="#8acefd"/><stop offset="0.4375" stop-color="#98ccfd"/><stop offset="0.5000" stop-color="#a5c9fd"/><stop offset="0.5625" stop-color="#b0c6fd"/><stop offset="0.6250" stop-color="#bbc3fd"/><stop offset="0.6875" stop-color="#c5c0fd"/><stop offset="0.7500" stop-color="#cfbdfd"/><stop offset="0.8125" stop-color="#d8bafd"/><stop offset="0.8750" stop-color="#e1b6fe"/><stop offset="0.9375" stop-color="#eab2fe"/><stop offset="1.0000" stop-color="#f3affe"/></linearGradient><linearGradient id="g109"><stop offset="0.0000" stop-color="#00dcfd"/><stop offset="0.0625" stop-color="#00dafd"/><stop offset="0.1250" stop-color="#32d8fd"/><stop offset="0.1875" stop-color="#52d5fd"/><stop offset="0.2500" stop-color="#68d3fe"/><stop offset="0.3125" stop-color="#7ad1fe"/><stop offset="0.3750" stop-color="#89cefe"/><stop offset="0.4375" stop-color="#97ccfe"/><stop offset="0.5000" stop-color="#a3c9fe"/><stop offset="0.5625" stop-color="#afc6fe"/><stop offset="0.6250" stop-color="#bac3fe"/><stop offset="0.6875" stop-color="#c4c0fe"/><stop offset="0.7500" stop-color="#cebdfe"/><stop offset="0.8125" stop-color="#d8baff"/><stop offset="0.8750" stop-color="#e1b6ff"/><stop offset="0.9375" stop-color="#eab2ff"/><stop offset="1.0000" stop-color="#f2afff"/></linearGradient><linearGradient id="g110"><stop offset="0.0000" stop-color="#00dcfe"/><stop offset="0.0625" stop-color="#00dafe"/><stop offset="0.1250" stop-color="#2ed8fe"/><stop offset="0.1875" stop-color="#50d5ff"/><stop offset="0.2500" stop-color="#66d3ff"/><stop offset="0.3125" stop-color="#78d1ff"/><stop offset="0.3750" stop-color="#88ceff"/><stop offset="0.4375" stop-color="#96ccff"/><stop offset="0.5000" stop-color="#a2c9ff"/><stop offset="0.5625" stop-color="#aec6ff"/><stop offset="0.6250" stop-color="#b9c3ff"/><stop offset="0.6875" stop-color="#c3c0ff"/><stop offset="0.7500" stop-color="#cdbdff"/><stop offset="0.8125" stop-color="#d7baff"/><stop offset="0.8750" stop-color="#e0b6ff"/><stop offset="0.9375" stop-color="#e9b3ff"/><stop offset="1.0000" stop-color="#f2afff"/></linearGradient><linearGradient id="g111"><stop offset="0.0000" stop-color="#00dcff"/><stop offset="0.0625" stop-color="#00daff"/><stop offset="0.1250" stop-color="#29d8ff"/><stop offset="0.1875" stop-color="#4dd5ff"/><stop offset="0.2500" stop-color="#64d3ff"/><stop offset="0.3125" stop-color="#77d1ff"/><stop offset="0.3750" stop-color="#86ceff"/><stop offset="0.4375" stop-color="#94ccff"/><stop offset="0.5000" stop-color="#a1c9ff"/><stop offset="0.5625" stop-color="#adc6ff"/><stop offset="0.6250" stop-color="#b8c3ff"/><stop offset="0.6875" stop-color="#c3c0ff"/><stop offset="0.7500" stop-color="#cdbdff"/><stop offset="0.8125" stop-color="#d6baff"/><stop offset="0.8750" stop-color="#dfb6ff"/><stop offset="0.9375" stop-color="#e8b3ff"/><stop offset="1.0000" stop-color="#f1afff"/></linearGradient><linearGradient id="g112"><stop offset="0.0000" stop-color="#00dcff"/><stop offset="0.0625" stop-color="#00daff"/><stop offset="0.1250" stop-color="#23d8ff"/><stop offset="0.1875" stop-color="#4bd6ff"/><stop offset="0.2500" stop-color="#63d3ff"/><stop offset="0.3125" stop-color="#75d1ff"/><stop offset="0.3750" stop-color="#85ceff"/><stop offset="0.4375" stop-color="#93ccff"/><stop offset="0.5000" stop-color="#a0c9ff"/><stop offset="0.5625" stop-color="#acc6ff"/><stop offset="0.6250" stop-color="#b7c3ff"/><stop offset="0.6875" stop-color="#c2c0ff"/><stop offset="0.7500" stop-color="#ccbdff"/><stop offset="0.8125" stop-color="#d5baff"/><stop offset="0.8750" stop-color="#dfb6ff"/><stop offset="0.9375" stop-color="#e8b3ff"/><stop offset="1.0000" stop-color="#f1afff"/></linearGradient><linearGradient id="g113"><stop offset="0.0000" stop-color="#00dcff"/><stop offset="0.0625" stop-color="#00daff"/><stop offset="0.1250" stop-color="#1dd8ff"/><stop offset="0.1875" stop-color="#48d6ff"/><stop offset="0.2500" stop-color="#61d3ff"/><stop offset="0.3125" stop-color="#74d1ff"/><stop offset="0.3750" stop-color="#84ceff"/><stop offset="0.4375" stop-color="#92ccff"/><stop offset="0.5000" stop-color="#9fc9ff"/><stop offset="0.5625" stop-color="#abc6ff"/><stop offset="0.6250" stop-color="#b6c3ff"/><stop offset="0.6875" stop-color="#c1c0ff"/><stop offset="0.7500" stop-color="#cbbdff"/><stop offset="0.8125" stop-color="#d5baff"/><stop offset="0.8750" stop-color="#deb6ff"/><stop offset="0.9375" stop-color="#e7b3ff"/><stop offset="1.0000" stop-color="#f0afff"/></linearGradient><linearGradient id="g114"><stop offset="0.0000" stop-color="#00dcff"/><stop offset="0.0625" stop-color="#00daff"/><stop offset="0.1250" stop-color="#15d8ff"/><stop offset="0.1875" stop-color="#45d6ff"/><stop offset="0.2500" stop-color="#5fd3ff"/><stop offset="0.3125" stop-color="#72d1ff"/><stop offset="0.3750" stop-color="#83ceff"/><stop offset="0.4375" stop-color="#91ccff"/><stop offset="0.5000" stop-color="#9ec9ff"/><stop offset="0.5625" stop-color="#aac6ff"/><stop offset="0.6250" stop-color="#b5c4ff"/><stop offset="0.6875" stop-color="#c0c0ff"/><stop offset="0.7500" stop-color="#cabdff"/><stop offset="0.8125" stop-color="#d4baff"/><stop offset="0.8750" stop-color="#ddb7ff"/><stop offset="0.9375" stop-color="#e7b3ff"/><stop offset="1.0000" stop-color="#efafff"/></linearGradient><linearGradient id="g115"><stop offset="0.0000" stop-color="#00dcff"/><stop offset="0.0625" stop-color="#00daff"/><stop offset="0.1250" stop-color="#08d8ff"/><stop offset="0.1875" stop-color="#42d6ff"/><stop offset="0.2500" stop-color="#5dd3ff"/><stop offset="0.3125" stop-color="#71d1ff"/><stop offset="0.3750" stop-color="#81cfff"/><stop offset="0.4375" stop-color="#90ccff"/><stop offset="0.5000" stop-color="#9dc9ff"/><stop offset="0.5625" stop-color="#a9c6ff"/><stop offset="0.6250" stop-color="#b5c4ff"/><stop offset="0.6875" stop-color="#bfc1ff"/><stop offset="0.7500" stop-color="#cabdff"/><stop offset="0.8125" stop-color="#d3baff"/><stop offset="0.8750" stop-color="#ddb7ff"/><stop offset="0.9375" stop-color="#e6b3ff"/><stop offset="1.0000" stop-color="#efafff"/></linearGradient><linearGradient id="g116"><stop offset="0.0000" stop-color="#00dcff"/><stop offset="0.0625" stop-color="#00daff"/><stop offset="0.1250" stop-color="#00d8ff"/><stop offset="0.1875" stop-color="#3fd6ff"/><stop offset="0.2500" stop-color="#5bd3ff"/><stop offset="0.3125" stop-color="#6fd1ff"/><stop offset="0.3750" stop-color="#80cfff"/><stop offset="0.4375" stop-color="#8fccff"/><stop offset="0.5000" stop-color="#9cc9ff"/><stop offset="0.5625" stop-color="#a8c7ff"/><stop offset="0.6250" stop-color="#b4c4ff"/><stop offset="0.6875" stop-color="#bfc1ff"/><stop offset="0.7500" stop-color="#c9bdff"/><stop offset="0.8125" stop-color="#d3baff"/><stop offset="0.8750" stop-color="#dcb7ff"/><stop offset="0.9375" stop-color="#e5b3ff"/><stop offset="1.0000" stop-color="#eeafff"/></linearGradient><linearGradient id="g117"><stop offset="0.0000" stop-color="#00dcff"/><stop offset="0.0625" stop-color="#00daff"/><stop offset="0.1250" stop-color="#00d8ff"/><stop offset="0.1875" stop-color="#3cd6ff"/><stop offset="0.2500" stop-color="#58d4ff"/><stop offset="0.3125" stop-color="#6dd1ff"/><stop offset="0.3750" stop-color="#7ecfff"/><stop offset="0.4375" stop-color="#8dccff"/><stop offset="0.5000" stop-color="#9bc9ff"/><stop offset="0.5625" stop-color="#a7c7ff"/><stop offset="0.6250" stop-color="#b3c4ff"/><stop offset="0.6875" stop-color="#bec1ff"/><stop offset="0.7500" stop-color="#c8beff"/><stop offset="0.8125" stop-color="#d2baff"/><stop offset="0.8750" stop-color="#dbb7ff"/><stop offset="0.9375" stop-color="#e5b3ff"/><stop offset="1.0000" stop-color="#eeafff"/></linearGradient><linearGradient id="g118"><stop offset="0.0000" stop-color="#00dcff"/><stop offset="0.0625" stop-color="#00daff"/><stop offset="0.1250" stop-color="#00d8ff"/><stop offset="0.1875" stop-color="#38d6ff"/><stop offset="0.2500" stop-color="#56d4ff"/><stop offset="0.3125" stop-color="#6cd1ff"/><stop offset="0.3750" stop-color="#7dcfff"/><stop offset="0.4375" stop-color="#8cccff"/><stop offset="0.5000" stop-color="#9ac9ff"/><stop offset="0.5625" stop-color="#a6c7ff"/><stop offset="0.6250" stop-color="#b2c4ff"/><stop offset="0.6875" stop-color="#bdc1ff"/><stop offset="0.7500" stop-color="#c7beff"/><stop offset="0.8125" stop-color="#d1baff"/><stop offset="0.8750" stop-color="#dbb7ff"/><stop offset="0.9375" stop-color="#e4b3ff"/><stop offset="1.0000" stop-color="#edafff"/></linearGradient><linearGradient id="g119"><stop offset="0.0000" stop-color="#00dcff"/><stop offset="0.0625" stop-color="#00daff"/><stop offset="0.1250" stop-color="#00d8ff"/><stop offset="0.1875" stop-color="#34d6ff"/><stop offset="0.2500" stop-color="#54d4ff"/><stop offset="0.3125" stop-color="#6ad1ff"/><stop offset="0.3750" stop-color="#7ccfff"/><stop offset="0.4375" stop-color="#8bccff"/><stop offset="0.5000" stop-color="#99caff"/><stop offset="0.5625" stop-color="#a5c7ff"/><stop offset="0.6250" stop-color="#b1c4ff"/><stop offset="0.6875" stop-color="#bcc1ff"/><stop offset="0.7500" stop-color="#c6beff"/><stop offset="0.8125" stop-color="#d0baff"/><stop offset="0.8750" stop-color="#dab7ff"/><stop offset="0.9375" stop-color="#e3b3ff"/><stop offset="1.0000" stop-color="#ecafff"/></linearGradient><linearGradient id="g120"><stop offset="0.0000" stop-color="#00dcff"/><stop offset="0.0625" stop-color="#00daff"/><stop offset="0.1250" stop-color="#00d8ff"/><stop offset="0.1875" stop-color="#30d6ff"/><stop offset="0.2500" stop-color="#51d4ff"/><stop offset="0.3125" stop-color="#68d1ff"/><stop offset="0.3750" stop-color="#7acfff"/><stop offset="0.4375" stop-color="#8accff"/><stop offset="0.5000" stop-color="#98caff"/><stop offset="0.5625" stop-color="#a4c7ff"/><stop offset="0.6250" stop-color="#b0c4ff"/><stop offset="0.6875" stop-color="#bbc1ff"/><stop offset="0.7500" stop-color="#c6beff"/><stop offset="0.8125" stop-color="#d0baff"/><stop offset="0.8750" stop-color="#d9b7ff"/><stop offset="0.9375" stop-color="#e3b3ff"/><stop offset="1.0000" stop-color="#ecb0ff"/></linearGradient><linearGradient id="g121"><stop offset="0.0000" stop-color="#00dcff"/><stop offset="0.0625" stop-color="#00daff"/><stop offset="0.1250" stop-color="#00d8ff"/><stop offset="0.1875" stop-color="#2bd6ff"/><stop offset="0.2500" stop-color="#4fd4ff"/><stop offset="0.3125" stop-color="#66d1ff"/><stop offset="0.3750" stop-color="#79cfff"/><stop offset="0.4375" stop-color="#88ccff"/><stop offset="0.5000" stop-color="#96caff"/><stop offset="0.5625" stop-color="#a3c7ff"/><stop offset="0.6250" stop-color="#afc4ff"/><stop offset="0.6875" stop-color="#bac1ff"/><stop offset="0.7500" stop-color="#c5beff"/><stop offset="0.8125" stop-color="#cfbaff"/><stop offset="0.8750" stop-color="#d9b7ff"/><stop offset="0.9375" stop-color="#e2b3ff"/><stop offset="1.0000" stop-color="#ebb0ff"/></linearGradient><clipPath id="cvgclip"><rect x="80.5" y="457.5" width="488" height="488"/></clipPath></defs>
<g shape-rendering="crispEdges">
<rect x="80.5" y="457.50" width="488" height="4.50" fill="url(#g0)"/>
<rect x="80.5" y="461.50" width="488" height="4.50" fill="url(#g1)"/>
<rect x="80.5" y="465.50" width="488" height="4.50" fill="url(#g2)"/>
<rect x="80.5" y="469.50" width="488" height="4.50" fill="url(#g3)"/>
<rect x="80.5" y="473.50" width="488" height="4.50" fill="url(#g4)"/>
<rect x="80.5" y="477.50" width="488" height="4.50" fill="url(#g5)"/>
<rect x="80.5" y="481.50" width="488" height="4.50" fill="url(#g6)"/>
<rect x="80.5" y="485.50" width="488" height="4.50" fill="url(#g7)"/>
<rect x="80.5" y="489.50" width="488" height="4.50" fill="url(#g8)"/>
<rect x="80.5" y="493.50" width="488" height="4.50" fill="url(#g9)"/>
<rect x="80.5" y="497.50" width="488" height="4.50" fill="url(#g10)"/>
<rect x="80.5" y="501.50" width="488" height="4.50" fill="url(#g11)"/>
<rect x="80.5" y="505.50" width="488" height="4.50" fill="url(#g12)"/>
<rect x="80.5" y="509.50" width="488" height="4.50" fill="url(#g13)"/>
<rect x="80.5" y="513.50" width="488" height="4.50" fill="url(#g14)"/>
<rect x="80.5" y="517.50" width="488" height="4.50" fill="url(#g15)"/>
<rect x="80.5" y="521.50" width="488" height="4.50" fill="url(#g16)"/>
<rect x="80.5" y="525.50" width="488" height="4.50" fill="url(#g17)"/>
<rect x="80.5" y="529.50" width="488" height="4.50" fill="url(#g18)"/>
<rect x="80.5" y="533.50" width="488" height="4.50" fill="url(#g19)"/>
<rect x="80.5" y="537.50" width="488" height="4.50" fill="url(#g20)"/>
<rect x="80.5" y="541.50" width="488" height="4.50" fill="url(#g21)"/>
<rect x="80.5" y="545.50" width="488" height="4.50" fill="url(#g22)"/>
<rect x="80.5" y="549.50" width="488" height="4.50" fill="url(#g23)"/>
<rect x="80.5" y="553.50" width="488" height="4.50" fill="url(#g24)"/>
<rect x="80.5" y="557.50" width="488" height="4.50" fill="url(#g25)"/>
<rect x="80.5" y="561.50" width="488" height="4.50" fill="url(#g26)"/>
<rect x="80.5" y="565.50" width="488" height="4.50" fill="url(#g27)"/>
<rect x="80.5" y="569.50" width="488" height="4.50" fill="url(#g28)"/>
<rect x="80.5" y="573.50" width="488" height="4.50" fill="url(#g29)"/>
<rect x="80.5" y="577.50" width="488" height="4.50" fill="url(#g30)"/>
<rect x="80.5" y="581.50" width="488" height="4.50" fill="url(#g31)"/>
<rect x="80.5" y="585.50" width="488" height="4.50" fill="url(#g32)"/>
<rect x="80.5" y="589.50" width="488" height="4.50" fill="url(#g33)"/>
<rect x="80.5" y="593.50" width="488" height="4.50" fill="url(#g34)"/>
<rect x="80.5" y="597.50" width="488" height="4.50" fill="url(#g35)"/>
<rect x="80.5" y="601.50" width="488" height="4.50" fill="url(#g36)"/>
<rect x="80.5" y="605.50" width="488" height="4.50" fill="url(#g37)"/>
<rect x="80.5" y="609.50" width="488" height="4.50" fill="url(#g38)"/>
<rect x="80.5" y="613.50" width="488" height="4.50" fill="url(#g39)"/>
<rect x="80.5" y="617.50" width="488" height="4.50" fill="url(#g40)"/>
<rect x="80.5" y="621.50" width="488" height="4.50" fill="url(#g41)"/>
<rect x="80.5" y="625.50" width="488" height="4.50" fill="url(#g42)"/>
<rect x="80.5" y="629.50" width="488" height="4.50" fill="url(#g43)"/>
<rect x="80.5" y="633.50" width="488" height="4.50" fill="url(#g44)"/>
<rect x="80.5" y="637.50" width="488" height="4.50" fill="url(#g45)"/>
<rect x="80.5" y="641.50" width="488" height="4.50" fill="url(#g46)"/>
<rect x="80.5" y="645.50" width="488" height="4.50" fill="url(#g47)"/>
<rect x="80.5" y="649.50" width="488" height="4.50" fill="url(#g48)"/>
<rect x="80.5" y="653.50" width="488" height="4.50" fill="url(#g49)"/>
<rect x="80.5" y="657.50" width="488" height="4.50" fill="url(#g50)"/>
<rect x="80.5" y="661.50" width="488" height="4.50" fill="url(#g51)"/>
<rect x="80.5" y="665.50" width="488" height="4.50" fill="url(#g52)"/>
<rect x="80.5" y="669.50" width="488" height="4.50" fill="url(#g53)"/>
<rect x="80.5" y="673.50" width="488" height="4.50" fill="url(#g54)"/>
<rect x="80.5" y="677.50" width="488" height="4.50" fill="url(#g55)"/>
<rect x="80.5" y="681.50" width="488" height="4.50" fill="url(#g56)"/>
<rect x="80.5" y="685.50" width="488" height="4.50" fill="url(#g57)"/>
<rect x="80.5" y="689.50" width="488" height="4.50" fill="url(#g58)"/>
<rect x="80.5" y="693.50" width="488" height="4.50" fill="url(#g59)"/>
<rect x="80.5" y="697.50" width="488" height="4.50" fill="url(#g60)"/>
<rect x="80.5" y="701.50" width="488" height="4.50" fill="url(#g61)"/>
<rect x="80.5" y="705.50" width="488" height="4.50" fill="url(#g62)"/>
<rect x="80.5" y="709.50" width="488" height="4.50" fill="url(#g63)"/>
<rect x="80.5" y="713.50" width="488" height="4.50" fill="url(#g64)"/>
<rect x="80.5" y="717.50" width="488" height="4.50" fill="url(#g65)"/>
<rect x="80.5" y="721.50" width="488" height="4.50" fill="url(#g66)"/>
<rect x="80.5" y="725.50" width="488" height="4.50" fill="url(#g67)"/>
<rect x="80.5" y="729.50" width="488" height="4.50" fill="url(#g68)"/>
<rect x="80.5" y="733.50" width="488" height="4.50" fill="url(#g69)"/>
<rect x="80.5" y="737.50" width="488" height="4.50" fill="url(#g70)"/>
<rect x="80.5" y="741.50" width="488" height="4.50" fill="url(#g71)"/>
<rect x="80.5" y="745.50" width="488" height="4.50" fill="url(#g72)"/>
<rect x="80.5" y="749.50" width="488" height="4.50" fill="url(#g73)"/>
<rect x="80.5" y="753.50" width="488" height="4.50" fill="url(#g74)"/>
<rect x="80.5" y="757.50" width="488" height="4.50" fill="url(#g75)"/>
<rect x="80.5" y="761.50" width="488" height="4.50" fill="url(#g76)"/>
<rect x="80.5" y="765.50" width="488" height="4.50" fill="url(#g77)"/>
<rect x="80.5" y="769.50" width="488" height="4.50" fill="url(#g78)"/>
<rect x="80.5" y="773.50" width="488" height="4.50" fill="url(#g79)"/>
<rect x="80.5" y="777.50" width="488" height="4.50" fill="url(#g80)"/>
<rect x="80.5" y="781.50" width="488" height="4.50" fill="url(#g81)"/>
<rect x="80.5" y="785.50" width="488" height="4.50" fill="url(#g82)"/>
<rect x="80.5" y="789.50" width="488" height="4.50" fill="url(#g83)"/>
<rect x="80.5" y="793.50" width="488" height="4.50" fill="url(#g84)"/>
<rect x="80.5" y="797.50" width="488" height="4.50" fill="url(#g85)"/>
<rect x="80.5" y="801.50" width="488" height="4.50" fill="url(#g86)"/>
<rect x="80.5" y="805.50" width="488" height="4.50" fill="url(#g87)"/>
<rect x="80.5" y="809.50" width="488" height="4.50" fill="url(#g88)"/>
<rect x="80.5" y="813.50" width="488" height="4.50" fill="url(#g89)"/>
<rect x="80.5" y="817.50" width="488" height="4.50" fill="url(#g90)"/>
<rect x="80.5" y="821.50" width="488" height="4.50" fill="url(#g91)"/>
<rect x="80.5" y="825.50" width="488" height="4.50" fill="url(#g92)"/>
<rect x="80.5" y="829.50" width="488" height="4.50" fill="url(#g93)"/>
<rect x="80.5" y="833.50" width="488" height="4.50" fill="url(#g94)"/>
<rect x="80.5" y="837.50" width="488" height="4.50" fill="url(#g95)"/>
<rect x="80.5" y="841.50" width="488" height="4.50" fill="url(#g96)"/>
<rect x="80.5" y="845.50" width="488" height="4.50" fill="url(#g97)"/>
<rect x="80.5" y="849.50" width="488" height="4.50" fill="url(#g98)"/>
<rect x="80.5" y="853.50" width="488" height="4.50" fill="url(#g99)"/>
<rect x="80.5" y="857.50" width="488" height="4.50" fill="url(#g100)"/>
<rect x="80.5" y="861.50" width="488" height="4.50" fill="url(#g101)"/>
<rect x="80.5" y="865.50" width="488" height="4.50" fill="url(#g102)"/>
<rect x="80.5" y="869.50" width="488" height="4.50" fill="url(#g103)"/>
<rect x="80.5" y="873.50" width="488" height="4.50" fill="url(#g104)"/>
<rect x="80.5" y="877.50" width="488" height="4.50" fill="url(#g105)"/>
<rect x="80.5" y="881.50" width="488" height="4.50" fill="url(#g106)"/>
<rect x="80.5" y="885.50" width="488" height="4.50" fill="url(#g107)"/>
<rect x="80.5" y="889.50" width="488" height="4.50" fill="url(#g108)"/>
<rect x="80.5" y="893.50" width="488" height="4.50" fill="url(#g109)"/>
<rect x="80.5" y="897.50" width="488" height="4.50" fill="url(#g110)"/>
<rect x="80.5" y="901.50" width="488" height="4.50" fill="url(#g111)"/>
<rect x="80.5" y="905.50" width="488" height="4.50" fill="url(#g112)"/>
<rect x="80.5" y="909.50" width="488" height="4.50" fill="url(#g113)"/>
<rect x="80.5" y="913.50" width="488" height="4.50" fill="url(#g114)"/>
<rect x="80.5" y="917.50" width="488" height="4.50" fill="url(#g115)"/>
<rect x="80.5" y="921.50" width="488" height="4.50" fill="url(#g116)"/>
<rect x="80.5" y="925.50" width="488" height="4.50" fill="url(#g117)"/>
<rect x="80.5" y="929.50" width="488" height="4.50" fill="url(#g118)"/>
<rect x="80.5" y="933.50" width="488" height="4.50" fill="url(#g119)"/>
<rect x="80.5" y="937.50" width="488" height="4.50" fill="url(#g120)"/>
<rect x="80.5" y="941.50" width="488" height="4.50" fill="url(#g121)"/>
</g>
<g clip-path="url(#cvgclip)">
<polygon fill="none" stroke="#f00" stroke-width="1.9" stroke-linejoin="round" points="473.3,678 438.7,592.7 380.8,534.2 312.5,502 271.7,495 217.2,523.2 176.5,586.3 165.6,664.3 182.5,727.5 221.7,817.5 271.7,872.5 335,899.2 375.8,906.7 438.7,877.3 471.7,852 492,756"/>
<circle cx="323.5" cy="700.4" r="145.4" fill="none" stroke="#e3e3e3" stroke-width="2"/>
<circle cx="323.5" cy="700.4" r="163.75" fill="none" stroke="#e3e3e3" stroke-width="2"/>
<circle cx="323.5" cy="700.4" r="200" fill="none" stroke="#e3e3e3" stroke-width="2"/>
<circle cx="323.5" cy="700.4" r="217.9" fill="none" stroke="#e3e3e3" stroke-width="2"/>
<path d="M342.5 701.5L584.5 701.5M341.1 694.6L546.2 609.7M337.2 688.8L494.2 531.8M331.4 684.9L416.3 479.8M324.5 683.5L324.5 441.5M317.6 684.9L232.7 479.8M311.8 688.8L154.8 531.8M307.9 694.6L102.8 609.7M306.5 701.5L64.5 701.5M307.9 708.4L102.8 793.3M311.8 714.2L154.8 871.2M317.6 718.1L232.7 923.2M324.5 719.5L324.5 961.5M331.4 718.1L416.3 923.2M337.2 714.2L494.2 871.2M341.1 708.4L546.2 793.3" stroke="#585858" stroke-width="0.9" stroke-dasharray="6 6" fill="none"/>
<path d="M318.0 701.5h13M324.5 695.0v13" stroke="#555" stroke-width="1"/>
<text x="326" y="841.5" font-size="16" text-anchor="middle" fill="#d9d9d9">−20%</text>
<text x="325" y="936.5" font-size="16" text-anchor="middle" fill="#d9d9d9">+20%</text>
<path d="M507.3 681.2A183.7 183.7 0 0 0 142.1 681.2L142.1 721.4A183.7 183.7 0 0 0 507.3 721.4Z" fill="none" stroke="#000" stroke-width="2.3" stroke-linejoin="round"/>
<path d="M503.3 663.7L479.2 675.2" stroke="#000" stroke-width="1.8" fill="none"/>
<path d="M473.3 678L478.0 672.7L480.4 677.7Z" fill="#000"/>
<path d="M472 592.7L445.2 592.7" stroke="#000" stroke-width="1.8" fill="none"/>
<path d="M438.7 592.7L445.2 589.9L445.2 595.5Z" fill="#000"/>
<path d="M426.7 549.7L387.0 536.3" stroke="#000" stroke-width="1.8" fill="none"/>
<path d="M380.8 534.2L387.9 533.6L386.1 538.9Z" fill="#000"/>
<path d="M350 519.3L318.4 504.7" stroke="#000" stroke-width="1.8" fill="none"/>
<path d="M312.5 502L319.6 502.2L317.2 507.3Z" fill="#000"/>
<path d="M307.5 518.7L277.1 498.6" stroke="#000" stroke-width="1.8" fill="none"/>
<path d="M271.7 495L278.7 496.3L275.6 500.9Z" fill="#000"/>
<path d="M229.6 544.3L220.5 528.8" stroke="#000" stroke-width="1.8" fill="none"/>
<path d="M217.2 523.2L222.9 527.4L218.1 530.2Z" fill="#000"/>
<path d="M171.8 598.2L174.1 592.3" stroke="#000" stroke-width="1.8" fill="none"/>
<path d="M176.5 586.3L176.7 593.4L171.5 591.3Z" fill="#000"/>
<path d="M143.4 680.8L160.4 668.2" stroke="#000" stroke-width="1.8" fill="none"/>
<path d="M165.6 664.3L162.1 670.4L158.7 665.9Z" fill="#000"/>
<path d="M144.2 729.7L176.0 727.9" stroke="#000" stroke-width="1.8" fill="none"/>
<path d="M182.5 727.5L176.2 730.7L175.9 725.1Z" fill="#000"/>
<path d="M170 799.2L215.6 815.3" stroke="#000" stroke-width="1.8" fill="none"/>
<path d="M221.7 817.5L214.6 818.0L216.5 812.7Z" fill="#000"/>
<path d="M217.5 849.2L265.7 869.9" stroke="#000" stroke-width="1.8" fill="none"/>
<path d="M271.7 872.5L264.6 872.5L266.8 867.4Z" fill="#000"/>
<path d="M298.3 883.8L329.0 896.7" stroke="#000" stroke-width="1.8" fill="none"/>
<path d="M335 899.2L327.9 899.3L330.1 894.1Z" fill="#000"/>
<path d="M347.5 883.3L370.8 902.6" stroke="#000" stroke-width="1.8" fill="none"/>
<path d="M375.8 906.7L369.0 904.7L372.6 900.4Z" fill="#000"/>
<path d="M428 852L436.2 871.3" stroke="#000" stroke-width="1.8" fill="none"/>
<path d="M438.7 877.3L433.6 872.4L438.7 870.2Z" fill="#000"/>
<path d="M474 806L472.0 845.5" stroke="#000" stroke-width="1.8" fill="none"/>
<path d="M471.7 852L469.2 845.4L474.8 845.6Z" fill="#000"/>
<path d="M505.3 731.3L495.1 750.3" stroke="#000" stroke-width="1.8" fill="none"/>
<path d="M492 756L492.6 748.9L497.5 751.6Z" fill="#000"/>
</g>
<text x="550.3" y="664.6" font-size="23.5" text-anchor="middle">1</text>
<text x="515.8" y="581.4" font-size="23.5" text-anchor="middle">2</text>
<text x="452.0" y="517.6" font-size="23.5" text-anchor="middle">3</text>
<text x="368.8" y="483.1" font-size="23.5" text-anchor="middle">4</text>
<text x="278.6" y="483.1" font-size="23.5" text-anchor="middle">5</text>
<text x="195.4" y="517.6" font-size="23.5" text-anchor="middle">6</text>
<text x="131.6" y="581.4" font-size="23.5" text-anchor="middle">7</text>
<text x="97.1" y="664.6" font-size="23.5" text-anchor="middle">8</text>
<text x="97.1" y="754.8" font-size="23.5" text-anchor="middle">9</text>
<text x="131.6" y="838.0" font-size="23.5" text-anchor="middle">10</text>
<text x="195.4" y="901.8" font-size="23.5" text-anchor="middle">11</text>
<text x="278.6" y="936.3" font-size="23.5" text-anchor="middle">12</text>
<text x="368.8" y="936.3" font-size="23.5" text-anchor="middle">13</text>
<text x="452.0" y="901.8" font-size="23.5" text-anchor="middle">14</text>
<text x="515.8" y="838.0" font-size="23.5" text-anchor="middle">15</text>
<text x="550.3" y="754.8" font-size="23.5" text-anchor="middle">16</text>
<text x="85.2" y="485.6" font-size="32.5" font-weight="bold" textLength="42.5" lengthAdjust="spacingAndGlyphs">66</text>
<text x="86.3" y="504.3" font-size="22">R<tspan font-size="16" dy="10.7">f</tspan></text>
<text x="556.8" y="485.6" font-size="32.5" text-anchor="end" font-weight="bold" textLength="42.5" lengthAdjust="spacingAndGlyphs">95</text>
<text x="527.5" y="504.3" font-size="22">R<tspan font-size="16" dy="10.7">g</tspan></text>
<text x="86.3" y="909.7" font-size="24.5" textLength="47" lengthAdjust="spacingAndGlyphs">CCT</text>
<text x="86.3" y="940.5" font-size="30" font-weight="bold" textLength="113.7" lengthAdjust="spacingAndGlyphs">6282 K</text>
<text x="511" y="909.7" font-size="23.5">D<tspan font-size="16" dy="4.5">uv</tspan></text>
<text x="555.8" y="940.5" font-size="30" text-anchor="end" font-weight="bold" textLength="129" lengthAdjust="spacingAndGlyphs">−0.0008</text>
<rect x="80.5" y="457.5" width="488" height="488" fill="none" stroke="#000" stroke-width="1.3"/>
<g>
<path d="M788.3 621.6L875.3 646.8L867.7 694.8L789.7 719.6L709.0 694.8L702.2 647.5Z" fill="#f4efd9" stroke="#f4efd9" stroke-width="10.8" stroke-linejoin="round"/>
<path d="M788.3 621.6L875.3 646.8L867.7 694.8L789.7 719.6L709.0 694.8L702.2 647.5Z" fill="#2c4459" stroke="#2c4459" stroke-width="4.6" stroke-linejoin="round"/>
<path d="M774 627h29v4h-7l7.7 14.3h-30.4l8-14.3h-7.3zM788.3 633.2l-5.3 7.5h10.7z" fill="#f27f2a" fill-rule="evenodd"/>
<path d="M778.7 648l4-.3l-6 7.2h-9.4zM787.3 647.7h2l2.4 7.2h-6.5zM794.3 647.7l3.7.3l11.7 6.9h-9z" fill="#f7c83a"/>
<path d="M709.2 685h37.5l-15 15.5l-21.7-7.7zM775.8 685h25l9.2 26.7l-20.3 5.8l-21.7-6.7zM832 685h37.7l-1 7.8l-21.2 7.7z" fill="#f7c83a"/>
<text x="708.5" y="680.6" font-size="28.5" font-weight="bold" fill="#f27f2a" stroke="#f27f2a" stroke-width="1.1" textLength="154.5" lengthAdjust="spacingAndGlyphs">ZEROAIR</text>
<text transform="translate(870.5 681) rotate(-90)" font-size="8" font-weight="bold" fill="#f27f2a" stroke="#f27f2a" stroke-width="0.4" textLength="22" lengthAdjust="spacingAndGlyphs">ORG</text>
</g>
</svg>
</body></html>
